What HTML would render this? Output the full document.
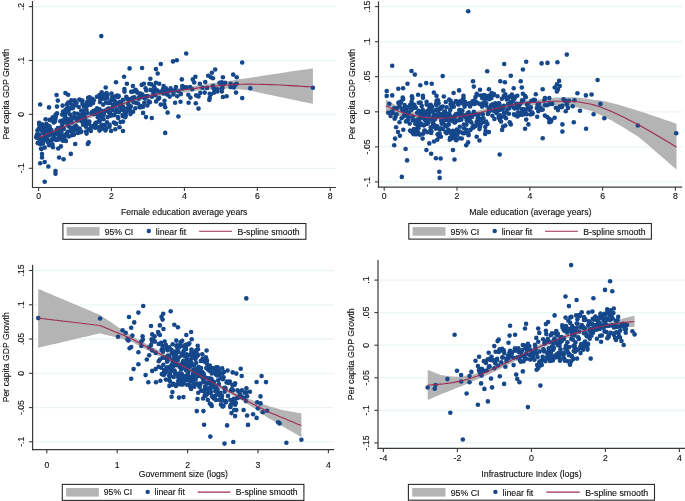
<!DOCTYPE html>
<html><head><meta charset="utf-8"><style>
html,body{margin:0;padding:0;background:#fff;}
svg{display:block;will-change:transform;filter:blur(0.3px);}
text{font-family:"Liberation Sans",sans-serif;fill:#111111;stroke:#111111;stroke-width:0.12px;}
</style></head><body>
<svg width="685" height="501" viewBox="0 0 685 501">
<rect x="0" y="0" width="685" height="501" fill="#ffffff"/>
<line x1="33.0" y1="6.6" x2="336.0" y2="6.6" stroke="#eaf6f1" stroke-width="1.3"/>
<line x1="33.0" y1="60.5" x2="336.0" y2="60.5" stroke="#eaf6f1" stroke-width="1.3"/>
<line x1="33.0" y1="114.4" x2="336.0" y2="114.4" stroke="#eaf6f1" stroke-width="1.3"/>
<line x1="33.0" y1="168.3" x2="336.0" y2="168.3" stroke="#eaf6f1" stroke-width="1.3"/>
<polygon points="38.6,134.8 40.3,134.1 42.7,133.1 45.5,131.9 48.5,130.6 51.8,129.2 55.1,127.8 58.2,126.5 61.1,125.3 63.7,124.2 66.3,123.1 68.8,122.0 71.3,121.0 73.8,119.9 76.4,118.9 79.1,117.8 81.9,116.7 84.9,115.5 88.0,114.3 91.2,113.1 94.5,111.9 97.9,110.7 101.2,109.5 104.5,108.3 107.8,107.1 111.0,105.9 114.3,104.7 117.5,103.5 120.7,102.3 124.0,101.1 127.2,100.0 130.5,98.9 133.7,97.9 136.9,96.9 140.1,96.0 143.3,95.1 146.5,94.3 149.8,93.5 153.0,92.7 156.3,92.0 159.7,91.3 163.2,90.6 166.7,90.0 170.3,89.4 173.9,88.8 177.5,88.3 181.1,87.7 184.7,87.2 188.2,86.7 191.6,86.2 195.0,85.7 198.3,85.2 201.6,84.8 204.9,84.3 208.3,83.7 211.6,83.3 215.0,82.8 218.4,82.3 221.8,81.9 225.2,81.5 228.7,81.1 232.2,80.6 235.7,79.9 239.3,79.3 243.0,78.8 246.8,78.3 250.6,77.7 254.4,77.0 258.4,76.4 262.4,75.8 266.5,75.2 270.7,74.5 275.0,73.9 279.7,73.3 284.9,72.5 290.4,71.6 295.9,70.8 301.2,70.1 306.0,69.4 309.9,68.8 312.9,68.4 312.9,103.8 309.9,103.2 306.0,102.4 301.2,101.4 295.9,100.3 290.4,99.2 284.9,98.1 279.7,97.1 275.0,96.1 270.7,95.1 266.5,94.2 262.4,93.3 258.4,92.5 254.4,91.6 250.6,90.7 246.8,90.1 243.0,89.7 239.3,89.3 235.7,89.0 232.2,88.7 228.7,88.6 225.2,88.7 221.8,88.9 218.4,89.0 215.0,89.2 211.6,89.4 208.3,89.6 204.9,89.9 201.6,90.2 198.3,90.6 195.0,91.0 191.6,91.5 188.2,91.9 184.7,92.4 181.1,92.8 177.5,93.3 173.9,93.8 170.3,94.3 166.7,94.9 163.2,95.5 159.7,96.1 156.3,96.8 153.0,97.5 149.8,98.3 146.5,99.0 143.3,99.9 140.1,100.7 136.9,101.6 133.7,102.5 130.5,103.5 127.2,104.6 124.0,105.7 120.7,106.8 117.5,108.0 114.3,109.2 111.0,110.4 107.8,111.5 104.5,112.7 101.2,113.9 97.9,115.2 94.5,116.5 91.2,117.8 88.0,119.1 84.9,120.3 81.9,121.5 79.1,122.7 76.4,123.9 73.8,125.0 71.3,126.1 68.8,127.2 66.3,128.4 63.7,129.5 61.1,130.7 58.2,132.0 55.1,133.4 51.8,134.9 48.5,136.3 45.5,137.7 42.7,139.0 40.3,140.0 38.6,140.8" fill="#b4b4b4"/>
<g fill="#15478b"><circle cx="36.2" cy="137.0" r="2.3"/><circle cx="37.0" cy="134.6" r="2.3"/><circle cx="36.8" cy="137.7" r="2.3"/><circle cx="37.1" cy="135.8" r="2.3"/><circle cx="37.8" cy="142.8" r="2.3"/><circle cx="37.5" cy="130.6" r="2.3"/><circle cx="38.0" cy="143.2" r="2.3"/><circle cx="38.8" cy="128.7" r="2.3"/><circle cx="38.8" cy="138.4" r="2.3"/><circle cx="39.1" cy="122.9" r="2.3"/><circle cx="39.3" cy="125.0" r="2.3"/><circle cx="39.5" cy="134.6" r="2.3"/><circle cx="40.2" cy="144.1" r="2.3"/><circle cx="40.3" cy="139.0" r="2.3"/><circle cx="40.7" cy="139.6" r="2.3"/><circle cx="41.2" cy="130.0" r="2.3"/><circle cx="41.5" cy="149.1" r="2.3"/><circle cx="41.9" cy="140.5" r="2.3"/><circle cx="42.2" cy="128.1" r="2.3"/><circle cx="42.1" cy="124.2" r="2.3"/><circle cx="42.9" cy="131.8" r="2.3"/><circle cx="43.0" cy="143.6" r="2.3"/><circle cx="43.0" cy="126.9" r="2.3"/><circle cx="44.0" cy="133.3" r="2.3"/><circle cx="44.0" cy="131.4" r="2.3"/><circle cx="44.0" cy="137.2" r="2.3"/><circle cx="44.9" cy="127.4" r="2.3"/><circle cx="44.5" cy="129.1" r="2.3"/><circle cx="45.5" cy="140.2" r="2.3"/><circle cx="45.1" cy="126.5" r="2.3"/><circle cx="45.6" cy="119.3" r="2.3"/><circle cx="46.4" cy="123.9" r="2.3"/><circle cx="46.3" cy="131.3" r="2.3"/><circle cx="46.6" cy="138.8" r="2.3"/><circle cx="46.6" cy="136.4" r="2.3"/><circle cx="47.1" cy="130.0" r="2.3"/><circle cx="47.6" cy="125.5" r="2.3"/><circle cx="48.0" cy="140.4" r="2.3"/><circle cx="48.2" cy="142.4" r="2.3"/><circle cx="48.1" cy="128.6" r="2.3"/><circle cx="48.9" cy="135.4" r="2.3"/><circle cx="49.1" cy="145.3" r="2.3"/><circle cx="49.4" cy="126.2" r="2.3"/><circle cx="49.6" cy="119.9" r="2.3"/><circle cx="49.5" cy="133.2" r="2.3"/><circle cx="50.1" cy="133.4" r="2.3"/><circle cx="50.2" cy="129.1" r="2.3"/><circle cx="51.0" cy="129.8" r="2.3"/><circle cx="51.3" cy="140.8" r="2.3"/><circle cx="51.1" cy="119.8" r="2.3"/><circle cx="52.0" cy="139.2" r="2.3"/><circle cx="51.6" cy="120.5" r="2.3"/><circle cx="52.4" cy="144.2" r="2.3"/><circle cx="52.4" cy="132.6" r="2.3"/><circle cx="52.7" cy="117.3" r="2.3"/><circle cx="53.0" cy="147.3" r="2.3"/><circle cx="53.1" cy="135.2" r="2.3"/><circle cx="53.6" cy="138.7" r="2.3"/><circle cx="53.8" cy="122.4" r="2.3"/><circle cx="54.1" cy="135.3" r="2.3"/><circle cx="54.0" cy="120.1" r="2.3"/><circle cx="54.8" cy="139.3" r="2.3"/><circle cx="54.8" cy="121.4" r="2.3"/><circle cx="55.5" cy="118.7" r="2.3"/><circle cx="55.0" cy="120.7" r="2.3"/><circle cx="55.7" cy="114.6" r="2.3"/><circle cx="55.8" cy="116.1" r="2.3"/><circle cx="56.2" cy="140.0" r="2.3"/><circle cx="56.5" cy="132.5" r="2.3"/><circle cx="56.8" cy="130.0" r="2.3"/><circle cx="57.1" cy="113.4" r="2.3"/><circle cx="57.0" cy="138.9" r="2.3"/><circle cx="57.5" cy="131.2" r="2.3"/><circle cx="57.7" cy="134.3" r="2.3"/><circle cx="58.2" cy="138.6" r="2.3"/><circle cx="58.0" cy="128.0" r="2.3"/><circle cx="58.9" cy="139.5" r="2.3"/><circle cx="58.9" cy="133.0" r="2.3"/><circle cx="59.4" cy="138.1" r="2.3"/><circle cx="59.5" cy="138.3" r="2.3"/><circle cx="59.7" cy="135.4" r="2.3"/><circle cx="59.9" cy="128.0" r="2.3"/><circle cx="60.3" cy="121.2" r="2.3"/><circle cx="60.3" cy="129.0" r="2.3"/><circle cx="60.5" cy="129.7" r="2.3"/><circle cx="61.0" cy="137.9" r="2.3"/><circle cx="61.4" cy="120.8" r="2.3"/><circle cx="61.4" cy="127.4" r="2.3"/><circle cx="61.7" cy="136.1" r="2.3"/><circle cx="61.5" cy="133.0" r="2.3"/><circle cx="62.0" cy="127.5" r="2.3"/><circle cx="62.2" cy="114.6" r="2.3"/><circle cx="62.3" cy="123.9" r="2.3"/><circle cx="62.8" cy="140.7" r="2.3"/><circle cx="62.6" cy="105.6" r="2.3"/><circle cx="63.1" cy="111.6" r="2.3"/><circle cx="63.5" cy="129.1" r="2.3"/><circle cx="63.7" cy="137.1" r="2.3"/><circle cx="63.7" cy="129.0" r="2.3"/><circle cx="64.1" cy="120.3" r="2.3"/><circle cx="64.4" cy="137.7" r="2.3"/><circle cx="64.9" cy="118.2" r="2.3"/><circle cx="64.8" cy="115.8" r="2.3"/><circle cx="65.1" cy="122.0" r="2.3"/><circle cx="65.4" cy="134.9" r="2.3"/><circle cx="65.9" cy="140.9" r="2.3"/><circle cx="65.6" cy="109.7" r="2.3"/><circle cx="65.7" cy="113.5" r="2.3"/><circle cx="66.1" cy="118.3" r="2.3"/><circle cx="66.3" cy="121.3" r="2.3"/><circle cx="66.7" cy="133.9" r="2.3"/><circle cx="67.0" cy="119.6" r="2.3"/><circle cx="67.0" cy="104.2" r="2.3"/><circle cx="67.4" cy="123.8" r="2.3"/><circle cx="67.7" cy="131.9" r="2.3"/><circle cx="67.5" cy="107.5" r="2.3"/><circle cx="68.2" cy="102.8" r="2.3"/><circle cx="68.4" cy="111.1" r="2.3"/><circle cx="68.6" cy="102.5" r="2.3"/><circle cx="68.8" cy="126.5" r="2.3"/><circle cx="68.9" cy="136.4" r="2.3"/><circle cx="69.3" cy="109.3" r="2.3"/><circle cx="69.2" cy="108.6" r="2.3"/><circle cx="69.5" cy="119.4" r="2.3"/><circle cx="69.9" cy="108.4" r="2.3"/><circle cx="70.1" cy="114.5" r="2.3"/><circle cx="70.3" cy="121.0" r="2.3"/><circle cx="70.8" cy="129.7" r="2.3"/><circle cx="70.7" cy="131.1" r="2.3"/><circle cx="71.5" cy="104.4" r="2.3"/><circle cx="71.5" cy="128.3" r="2.3"/><circle cx="71.6" cy="118.0" r="2.3"/><circle cx="71.8" cy="135.2" r="2.3"/><circle cx="71.7" cy="122.4" r="2.3"/><circle cx="72.4" cy="130.8" r="2.3"/><circle cx="72.5" cy="118.3" r="2.3"/><circle cx="72.8" cy="108.3" r="2.3"/><circle cx="72.9" cy="131.5" r="2.3"/><circle cx="73.3" cy="127.6" r="2.3"/><circle cx="73.1" cy="134.5" r="2.3"/><circle cx="74.0" cy="134.2" r="2.3"/><circle cx="73.7" cy="134.7" r="2.3"/><circle cx="74.4" cy="113.2" r="2.3"/><circle cx="74.0" cy="116.8" r="2.3"/><circle cx="74.8" cy="129.0" r="2.3"/><circle cx="74.7" cy="100.3" r="2.3"/><circle cx="75.4" cy="102.7" r="2.3"/><circle cx="75.2" cy="129.6" r="2.3"/><circle cx="75.1" cy="105.5" r="2.3"/><circle cx="75.8" cy="127.0" r="2.3"/><circle cx="75.9" cy="125.7" r="2.3"/><circle cx="76.5" cy="118.2" r="2.3"/><circle cx="76.5" cy="103.0" r="2.3"/><circle cx="76.6" cy="119.4" r="2.3"/><circle cx="76.6" cy="126.9" r="2.3"/><circle cx="77.3" cy="119.1" r="2.3"/><circle cx="77.4" cy="120.5" r="2.3"/><circle cx="77.7" cy="113.7" r="2.3"/><circle cx="77.9" cy="132.9" r="2.3"/><circle cx="78.1" cy="130.9" r="2.3"/><circle cx="78.5" cy="118.9" r="2.3"/><circle cx="78.8" cy="107.0" r="2.3"/><circle cx="78.8" cy="118.0" r="2.3"/><circle cx="79.3" cy="99.5" r="2.3"/><circle cx="79.5" cy="118.3" r="2.3"/><circle cx="79.7" cy="128.5" r="2.3"/><circle cx="79.8" cy="117.3" r="2.3"/><circle cx="80.3" cy="100.1" r="2.3"/><circle cx="80.5" cy="132.3" r="2.3"/><circle cx="80.6" cy="116.4" r="2.3"/><circle cx="80.6" cy="115.0" r="2.3"/><circle cx="81.4" cy="131.5" r="2.3"/><circle cx="81.2" cy="110.7" r="2.3"/><circle cx="81.6" cy="121.3" r="2.3"/><circle cx="82.5" cy="103.9" r="2.3"/><circle cx="82.4" cy="100.6" r="2.3"/><circle cx="82.8" cy="110.6" r="2.3"/><circle cx="82.7" cy="121.1" r="2.3"/><circle cx="83.1" cy="124.8" r="2.3"/><circle cx="83.1" cy="117.1" r="2.3"/><circle cx="83.6" cy="106.1" r="2.3"/><circle cx="83.8" cy="114.4" r="2.3"/><circle cx="84.2" cy="113.5" r="2.3"/><circle cx="84.3" cy="104.7" r="2.3"/><circle cx="84.6" cy="120.9" r="2.3"/><circle cx="84.8" cy="117.4" r="2.3"/><circle cx="85.4" cy="120.1" r="2.3"/><circle cx="85.9" cy="107.0" r="2.3"/><circle cx="85.9" cy="126.7" r="2.3"/><circle cx="86.5" cy="109.7" r="2.3"/><circle cx="86.2" cy="131.6" r="2.3"/><circle cx="86.6" cy="133.6" r="2.3"/><circle cx="86.6" cy="123.6" r="2.3"/><circle cx="87.1" cy="102.0" r="2.3"/><circle cx="87.4" cy="113.1" r="2.3"/><circle cx="87.9" cy="102.9" r="2.3"/><circle cx="88.2" cy="121.8" r="2.3"/><circle cx="88.0" cy="105.3" r="2.3"/><circle cx="88.8" cy="129.4" r="2.3"/><circle cx="89.0" cy="102.3" r="2.3"/><circle cx="89.3" cy="124.0" r="2.3"/><circle cx="89.3" cy="121.6" r="2.3"/><circle cx="89.6" cy="99.9" r="2.3"/><circle cx="89.6" cy="97.3" r="2.3"/><circle cx="90.3" cy="103.0" r="2.3"/><circle cx="90.6" cy="104.8" r="2.3"/><circle cx="90.9" cy="130.9" r="2.3"/><circle cx="91.5" cy="101.0" r="2.3"/><circle cx="91.0" cy="127.1" r="2.3"/><circle cx="91.7" cy="113.5" r="2.3"/><circle cx="91.8" cy="112.2" r="2.3"/><circle cx="92.3" cy="98.7" r="2.3"/><circle cx="92.9" cy="126.1" r="2.3"/><circle cx="92.6" cy="112.8" r="2.3"/><circle cx="93.4" cy="111.0" r="2.3"/><circle cx="93.1" cy="102.9" r="2.3"/><circle cx="93.8" cy="100.2" r="2.3"/><circle cx="93.9" cy="126.4" r="2.3"/><circle cx="94.3" cy="110.8" r="2.3"/><circle cx="94.3" cy="114.1" r="2.3"/><circle cx="95.0" cy="124.2" r="2.3"/><circle cx="95.1" cy="127.7" r="2.3"/><circle cx="95.4" cy="123.2" r="2.3"/><circle cx="95.9" cy="110.4" r="2.3"/><circle cx="95.9" cy="126.5" r="2.3"/><circle cx="96.3" cy="122.6" r="2.3"/><circle cx="96.4" cy="110.3" r="2.3"/><circle cx="96.9" cy="96.8" r="2.3"/><circle cx="96.7" cy="112.3" r="2.3"/><circle cx="97.0" cy="108.3" r="2.3"/><circle cx="97.8" cy="117.3" r="2.3"/><circle cx="97.6" cy="127.4" r="2.3"/><circle cx="98.3" cy="115.4" r="2.3"/><circle cx="98.3" cy="109.2" r="2.3"/><circle cx="99.0" cy="117.7" r="2.3"/><circle cx="98.9" cy="121.8" r="2.3"/><circle cx="99.5" cy="95.1" r="2.3"/><circle cx="99.8" cy="120.7" r="2.3"/><circle cx="99.6" cy="109.3" r="2.3"/><circle cx="100.0" cy="102.1" r="2.3"/><circle cx="100.2" cy="98.8" r="2.3"/><circle cx="100.6" cy="126.2" r="2.3"/><circle cx="100.8" cy="112.6" r="2.3"/><circle cx="101.5" cy="114.6" r="2.3"/><circle cx="101.5" cy="116.9" r="2.3"/><circle cx="101.9" cy="95.2" r="2.3"/><circle cx="102.0" cy="124.9" r="2.3"/><circle cx="102.1" cy="111.0" r="2.3"/><circle cx="102.6" cy="111.8" r="2.3"/><circle cx="102.8" cy="98.7" r="2.3"/><circle cx="103.3" cy="115.2" r="2.3"/><circle cx="103.2" cy="104.6" r="2.3"/><circle cx="103.8" cy="113.9" r="2.3"/><circle cx="103.6" cy="119.2" r="2.3"/><circle cx="104.1" cy="94.5" r="2.3"/><circle cx="104.6" cy="97.7" r="2.3"/><circle cx="104.7" cy="125.3" r="2.3"/><circle cx="105.4" cy="98.7" r="2.3"/><circle cx="105.5" cy="130.4" r="2.3"/><circle cx="105.7" cy="110.8" r="2.3"/><circle cx="106.0" cy="102.7" r="2.3"/><circle cx="106.3" cy="128.3" r="2.3"/><circle cx="106.9" cy="110.3" r="2.3"/><circle cx="107.0" cy="122.4" r="2.3"/><circle cx="107.3" cy="98.0" r="2.3"/><circle cx="107.3" cy="109.8" r="2.3"/><circle cx="107.6" cy="94.9" r="2.3"/><circle cx="107.7" cy="117.1" r="2.3"/><circle cx="108.2" cy="103.0" r="2.3"/><circle cx="108.3" cy="108.5" r="2.3"/><circle cx="108.9" cy="112.3" r="2.3"/><circle cx="109.5" cy="126.7" r="2.3"/><circle cx="109.4" cy="102.0" r="2.3"/><circle cx="109.6" cy="124.8" r="2.3"/><circle cx="109.9" cy="115.4" r="2.3"/><circle cx="110.2" cy="103.0" r="2.3"/><circle cx="110.3" cy="113.3" r="2.3"/><circle cx="110.8" cy="115.6" r="2.3"/><circle cx="111.4" cy="100.0" r="2.3"/><circle cx="111.1" cy="130.9" r="2.3"/><circle cx="111.5" cy="93.5" r="2.3"/><circle cx="111.6" cy="108.2" r="2.3"/><circle cx="112.3" cy="96.7" r="2.3"/><circle cx="112.3" cy="98.0" r="2.3"/><circle cx="112.8" cy="115.3" r="2.3"/><circle cx="112.7" cy="109.9" r="2.3"/><circle cx="113.1" cy="105.1" r="2.3"/><circle cx="113.9" cy="122.6" r="2.3"/><circle cx="113.5" cy="97.1" r="2.3"/><circle cx="114.4" cy="114.9" r="2.3"/><circle cx="114.4" cy="100.3" r="2.3"/><circle cx="114.7" cy="101.8" r="2.3"/><circle cx="114.9" cy="105.8" r="2.3"/><circle cx="115.3" cy="129.2" r="2.3"/><circle cx="115.7" cy="112.0" r="2.3"/><circle cx="115.9" cy="123.8" r="2.3"/><circle cx="116.0" cy="123.7" r="2.3"/><circle cx="116.0" cy="96.1" r="2.3"/><circle cx="116.8" cy="109.6" r="2.3"/><circle cx="116.8" cy="103.0" r="2.3"/><circle cx="117.4" cy="95.5" r="2.3"/><circle cx="117.5" cy="103.0" r="2.3"/><circle cx="117.9" cy="117.0" r="2.3"/><circle cx="118.1" cy="97.1" r="2.3"/><circle cx="118.2" cy="118.1" r="2.3"/><circle cx="118.7" cy="96.0" r="2.3"/><circle cx="118.9" cy="112.1" r="2.3"/><circle cx="119.5" cy="127.3" r="2.3"/><circle cx="120.0" cy="106.8" r="2.3"/><circle cx="119.9" cy="102.1" r="2.3"/><circle cx="120.2" cy="105.1" r="2.3"/><circle cx="120.5" cy="122.1" r="2.3"/><circle cx="120.6" cy="103.5" r="2.3"/><circle cx="121.2" cy="103.3" r="2.3"/><circle cx="121.2" cy="104.1" r="2.3"/><circle cx="121.6" cy="109.6" r="2.3"/><circle cx="121.9" cy="108.8" r="2.3"/><circle cx="122.4" cy="109.2" r="2.3"/><circle cx="122.6" cy="115.1" r="2.3"/><circle cx="122.9" cy="99.7" r="2.3"/><circle cx="123.0" cy="106.9" r="2.3"/><circle cx="123.8" cy="108.2" r="2.3"/><circle cx="124.0" cy="110.8" r="2.3"/><circle cx="124.4" cy="89.1" r="2.3"/><circle cx="124.5" cy="91.6" r="2.3"/><circle cx="125.4" cy="117.1" r="2.3"/><circle cx="125.0" cy="109.0" r="2.3"/><circle cx="125.6" cy="112.0" r="2.3"/><circle cx="126.3" cy="96.7" r="2.3"/><circle cx="126.1" cy="112.1" r="2.3"/><circle cx="126.8" cy="111.6" r="2.3"/><circle cx="127.2" cy="98.9" r="2.3"/><circle cx="128.0" cy="108.0" r="2.3"/><circle cx="128.2" cy="103.9" r="2.3"/><circle cx="128.4" cy="108.6" r="2.3"/><circle cx="129.0" cy="100.0" r="2.3"/><circle cx="129.4" cy="106.6" r="2.3"/><circle cx="129.9" cy="109.9" r="2.3"/><circle cx="130.4" cy="114.1" r="2.3"/><circle cx="130.8" cy="106.4" r="2.3"/><circle cx="130.9" cy="99.0" r="2.3"/><circle cx="131.2" cy="91.7" r="2.3"/><circle cx="131.9" cy="111.9" r="2.3"/><circle cx="132.2" cy="91.8" r="2.3"/><circle cx="132.6" cy="97.8" r="2.3"/><circle cx="133.1" cy="111.8" r="2.3"/><circle cx="133.6" cy="102.3" r="2.3"/><circle cx="134.4" cy="91.1" r="2.3"/><circle cx="134.5" cy="97.4" r="2.3"/><circle cx="135.3" cy="108.2" r="2.3"/><circle cx="135.5" cy="89.7" r="2.3"/><circle cx="136.1" cy="103.0" r="2.3"/><circle cx="136.8" cy="91.6" r="2.3"/><circle cx="137.6" cy="92.7" r="2.3"/><circle cx="138.1" cy="103.5" r="2.3"/><circle cx="138.7" cy="98.6" r="2.3"/><circle cx="139.4" cy="96.9" r="2.3"/><circle cx="139.6" cy="107.2" r="2.3"/><circle cx="140.5" cy="93.6" r="2.3"/><circle cx="140.8" cy="106.1" r="2.3"/><circle cx="141.0" cy="107.2" r="2.3"/><circle cx="141.9" cy="94.3" r="2.3"/><circle cx="142.8" cy="97.0" r="2.3"/><circle cx="143.1" cy="106.8" r="2.3"/><circle cx="143.5" cy="95.8" r="2.3"/><circle cx="144.2" cy="103.0" r="2.3"/><circle cx="144.9" cy="98.6" r="2.3"/><circle cx="145.6" cy="88.3" r="2.3"/><circle cx="146.2" cy="90.5" r="2.3"/><circle cx="146.9" cy="96.1" r="2.3"/><circle cx="147.3" cy="105.5" r="2.3"/><circle cx="147.6" cy="96.3" r="2.3"/><circle cx="148.6" cy="101.3" r="2.3"/><circle cx="149.0" cy="102.3" r="2.3"/><circle cx="149.9" cy="102.2" r="2.3"/><circle cx="150.5" cy="89.9" r="2.3"/><circle cx="151.4" cy="84.2" r="2.3"/><circle cx="152.0" cy="96.8" r="2.3"/><circle cx="152.9" cy="90.6" r="2.3"/><circle cx="153.4" cy="93.0" r="2.3"/><circle cx="154.0" cy="86.4" r="2.3"/><circle cx="154.9" cy="88.6" r="2.3"/><circle cx="155.3" cy="95.2" r="2.3"/><circle cx="156.1" cy="101.4" r="2.3"/><circle cx="156.7" cy="90.7" r="2.3"/><circle cx="157.5" cy="90.6" r="2.3"/><circle cx="158.2" cy="98.8" r="2.3"/><circle cx="159.2" cy="98.1" r="2.3"/><circle cx="160.1" cy="92.3" r="2.3"/><circle cx="160.7" cy="104.6" r="2.3"/><circle cx="161.5" cy="91.9" r="2.3"/><circle cx="162.9" cy="89.3" r="2.3"/><circle cx="163.8" cy="93.4" r="2.3"/><circle cx="164.5" cy="100.8" r="2.3"/><circle cx="165.4" cy="88.7" r="2.3"/><circle cx="166.3" cy="90.2" r="2.3"/><circle cx="167.2" cy="94.6" r="2.3"/><circle cx="168.6" cy="90.9" r="2.3"/><circle cx="169.7" cy="96.6" r="2.3"/><circle cx="170.6" cy="88.4" r="2.3"/><circle cx="171.9" cy="90.6" r="2.3"/><circle cx="173.5" cy="94.4" r="2.3"/><circle cx="174.9" cy="90.4" r="2.3"/><circle cx="175.9" cy="87.0" r="2.3"/><circle cx="177.3" cy="96.3" r="2.3"/><circle cx="178.6" cy="91.3" r="2.3"/><circle cx="180.9" cy="94.1" r="2.3"/><circle cx="182.5" cy="88.3" r="2.3"/><circle cx="184.1" cy="87.2" r="2.3"/><circle cx="186.2" cy="87.2" r="2.3"/><circle cx="188.3" cy="94.7" r="2.3"/><circle cx="190.4" cy="97.6" r="2.3"/><circle cx="192.2" cy="89.2" r="2.3"/><circle cx="194.2" cy="82.5" r="2.3"/><circle cx="196.2" cy="95.4" r="2.3"/><circle cx="198.5" cy="96.5" r="2.3"/><circle cx="200.3" cy="92.9" r="2.3"/><circle cx="202.5" cy="87.8" r="2.3"/><circle cx="204.7" cy="92.6" r="2.3"/><circle cx="207.1" cy="87.9" r="2.3"/><circle cx="210.8" cy="94.4" r="2.3"/><circle cx="214.6" cy="89.7" r="2.3"/><circle cx="222.5" cy="88.0" r="2.3"/><circle cx="40.2" cy="104.5" r="2.3"/><circle cx="44.7" cy="181.8" r="2.3"/><circle cx="55.5" cy="171.0" r="2.3"/><circle cx="55.5" cy="173.7" r="2.3"/><circle cx="48.3" cy="166.5" r="2.3"/><circle cx="40.2" cy="163.3" r="2.3"/><circle cx="44.7" cy="162.0" r="2.3"/><circle cx="59.1" cy="157.5" r="2.3"/><circle cx="63.6" cy="159.3" r="2.3"/><circle cx="70.8" cy="153.9" r="2.3"/><circle cx="75.2" cy="144.0" r="2.3"/><circle cx="87.8" cy="144.0" r="2.3"/><circle cx="88.7" cy="142.2" r="2.3"/><circle cx="99.5" cy="130.6" r="2.3"/><circle cx="102.2" cy="128.8" r="2.3"/><circle cx="42.0" cy="154.0" r="2.3"/><circle cx="42.0" cy="157.5" r="2.3"/><circle cx="41.1" cy="148.5" r="2.3"/><circle cx="44.7" cy="147.6" r="2.3"/><circle cx="58.2" cy="148.5" r="2.3"/><circle cx="60.9" cy="146.4" r="2.3"/><circle cx="101.3" cy="36.1" r="2.3"/><circle cx="56.6" cy="95.0" r="2.3"/><circle cx="65.4" cy="93.1" r="2.3"/><circle cx="68.1" cy="94.7" r="2.3"/><circle cx="57.8" cy="100.6" r="2.3"/><circle cx="49.0" cy="107.4" r="2.3"/><circle cx="57.0" cy="106.6" r="2.3"/><circle cx="71.3" cy="100.3" r="2.3"/><circle cx="88.1" cy="97.9" r="2.3"/><circle cx="105.7" cy="87.5" r="2.3"/><circle cx="101.7" cy="92.3" r="2.3"/><circle cx="106.5" cy="93.1" r="2.3"/><circle cx="116.0" cy="82.2" r="2.3"/><circle cx="123.0" cy="131.0" r="2.3"/><circle cx="242.2" cy="62.5" r="2.3"/><circle cx="222.9" cy="77.2" r="2.3"/><circle cx="233.2" cy="74.6" r="2.3"/><circle cx="236.7" cy="77.2" r="2.3"/><circle cx="221.8" cy="82.2" r="2.3"/><circle cx="225.1" cy="82.7" r="2.3"/><circle cx="222.9" cy="84.4" r="2.3"/><circle cx="213.0" cy="86.0" r="2.3"/><circle cx="217.4" cy="89.3" r="2.3"/><circle cx="214.1" cy="92.6" r="2.3"/><circle cx="221.8" cy="91.5" r="2.3"/><circle cx="230.6" cy="83.8" r="2.3"/><circle cx="235.0" cy="84.9" r="2.3"/><circle cx="236.7" cy="83.8" r="2.3"/><circle cx="233.9" cy="87.5" r="2.3"/><circle cx="236.0" cy="92.6" r="2.3"/><circle cx="250.3" cy="88.2" r="2.3"/><circle cx="222.9" cy="97.0" r="2.3"/><circle cx="226.6" cy="96.3" r="2.3"/><circle cx="242.2" cy="98.1" r="2.3"/><circle cx="312.9" cy="87.7" r="2.3"/><circle cx="165.2" cy="132.9" r="2.3"/><circle cx="178.4" cy="116.5" r="2.3"/><circle cx="151.8" cy="118.0" r="2.3"/><circle cx="146.0" cy="117.1" r="2.3"/><circle cx="143.1" cy="112.9" r="2.3"/><circle cx="167.6" cy="112.6" r="2.3"/><circle cx="198.5" cy="108.6" r="2.3"/><circle cx="123.0" cy="121.6" r="2.3"/><circle cx="125.7" cy="115.3" r="2.3"/><circle cx="123.0" cy="116.2" r="2.3"/><circle cx="165.2" cy="107.2" r="2.3"/><circle cx="164.3" cy="104.5" r="2.3"/><circle cx="175.1" cy="102.7" r="2.3"/><circle cx="180.5" cy="101.8" r="2.3"/><circle cx="188.6" cy="102.7" r="2.3"/><circle cx="195.8" cy="103.2" r="2.3"/><circle cx="209.3" cy="100.0" r="2.3"/><circle cx="186.2" cy="53.5" r="2.3"/><circle cx="173.0" cy="61.4" r="2.3"/><circle cx="176.8" cy="60.3" r="2.3"/><circle cx="160.8" cy="64.0" r="2.3"/><circle cx="129.6" cy="68.4" r="2.3"/><circle cx="142.1" cy="68.0" r="2.3"/><circle cx="155.9" cy="69.1" r="2.3"/><circle cx="157.7" cy="73.5" r="2.3"/><circle cx="215.2" cy="69.5" r="2.3"/><circle cx="211.9" cy="72.8" r="2.3"/><circle cx="208.2" cy="75.7" r="2.3"/><circle cx="210.8" cy="77.2" r="2.3"/><circle cx="213.0" cy="78.3" r="2.3"/><circle cx="195.4" cy="76.8" r="2.3"/><circle cx="192.8" cy="79.4" r="2.3"/><circle cx="181.8" cy="79.4" r="2.3"/><circle cx="150.4" cy="78.7" r="2.3"/><circle cx="124.1" cy="76.8" r="2.3"/><circle cx="126.9" cy="83.8" r="2.3"/><circle cx="132.9" cy="86.0" r="2.3"/><circle cx="141.7" cy="84.9" r="2.3"/><circle cx="143.9" cy="83.8" r="2.3"/><circle cx="149.3" cy="83.8" r="2.3"/><circle cx="155.9" cy="82.7" r="2.3"/><circle cx="159.2" cy="83.8" r="2.3"/><circle cx="163.6" cy="86.0" r="2.3"/><circle cx="165.8" cy="88.2" r="2.3"/><circle cx="182.3" cy="86.0" r="2.3"/><circle cx="190.0" cy="87.1" r="2.3"/><circle cx="199.8" cy="83.8" r="2.3"/><circle cx="205.3" cy="82.0" r="2.3"/><circle cx="219.6" cy="82.7" r="2.3"/><circle cx="209.7" cy="98.0" r="2.3"/><circle cx="217.4" cy="91.5" r="2.3"/><circle cx="209.7" cy="93.7" r="2.3"/><circle cx="221.8" cy="88.2" r="2.3"/><circle cx="230.6" cy="87.1" r="2.3"/><circle cx="213.7" cy="88.2" r="2.3"/></g>
<polyline points="38.6,137.8 40.3,137.0 42.7,136.0 45.5,134.8 48.5,133.5 51.8,132.0 55.1,130.6 58.2,129.2 61.1,128.0 63.7,126.9 66.3,125.7 68.8,124.6 71.3,123.5 73.8,122.5 76.4,121.4 79.1,120.2 81.9,119.1 84.9,117.9 88.0,116.7 91.2,115.5 94.5,114.2 97.9,113.0 101.2,111.7 104.5,110.5 107.8,109.3 111.0,108.1 114.3,106.9 117.5,105.7 120.7,104.5 124.0,103.4 127.2,102.3 130.5,101.2 133.7,100.2 136.9,99.2 140.1,98.3 143.3,97.5 146.5,96.7 149.8,95.9 153.0,95.1 156.3,94.4 159.7,93.7 163.2,93.0 166.7,92.4 170.3,91.8 173.9,91.3 177.5,90.8 181.1,90.3 184.7,89.8 188.2,89.3 191.6,88.8 195.0,88.4 198.3,87.9 201.6,87.5 204.9,87.1 208.3,86.7 211.6,86.3 215.0,86.0 218.4,85.7 221.8,85.4 225.2,85.1 228.7,84.9 232.2,84.6 235.7,84.4 239.3,84.3 243.0,84.2 246.8,84.1 250.6,84.1 254.4,84.2 258.4,84.3 262.4,84.4 266.5,84.5 270.7,84.6 275.0,84.8 279.7,85.0 284.9,85.3 290.4,85.6 295.9,85.9 301.2,86.3 306.0,86.6 309.9,86.8 312.9,87.0" fill="none" stroke="#9e2a55" stroke-width="1.1"/>
<line x1="32.5" y1="1.0" x2="32.5" y2="188.1" stroke="#3a3a3a" stroke-width="1.2"/>
<line x1="31.9" y1="187.5" x2="336.0" y2="187.5" stroke="#3a3a3a" stroke-width="1.2"/>
<line x1="28.9" y1="6.6" x2="32.5" y2="6.6" stroke="#3a3a3a" stroke-width="1.1"/>
<text transform="translate(23.9,6.6) rotate(-90)" text-anchor="middle" font-size="8.7">.2</text>
<line x1="28.9" y1="60.5" x2="32.5" y2="60.5" stroke="#3a3a3a" stroke-width="1.1"/>
<text transform="translate(23.9,60.5) rotate(-90)" text-anchor="middle" font-size="8.7">.1</text>
<line x1="28.9" y1="114.4" x2="32.5" y2="114.4" stroke="#3a3a3a" stroke-width="1.1"/>
<text transform="translate(23.9,114.4) rotate(-90)" text-anchor="middle" font-size="8.7">0</text>
<line x1="28.9" y1="168.3" x2="32.5" y2="168.3" stroke="#3a3a3a" stroke-width="1.1"/>
<text transform="translate(23.9,168.3) rotate(-90)" text-anchor="middle" font-size="8.7">-.1</text>
<line x1="38.6" y1="187.5" x2="38.6" y2="191.1" stroke="#3a3a3a" stroke-width="1.1"/>
<text x="38.6" y="199.3" text-anchor="middle" font-size="8.7">0</text>
<line x1="111.5" y1="187.5" x2="111.5" y2="191.1" stroke="#3a3a3a" stroke-width="1.1"/>
<text x="111.5" y="199.3" text-anchor="middle" font-size="8.7">2</text>
<line x1="184.4" y1="187.5" x2="184.4" y2="191.1" stroke="#3a3a3a" stroke-width="1.1"/>
<text x="184.4" y="199.3" text-anchor="middle" font-size="8.7">4</text>
<line x1="257.3" y1="187.5" x2="257.3" y2="191.1" stroke="#3a3a3a" stroke-width="1.1"/>
<text x="257.3" y="199.3" text-anchor="middle" font-size="8.7">6</text>
<line x1="330.2" y1="187.5" x2="330.2" y2="191.1" stroke="#3a3a3a" stroke-width="1.1"/>
<text x="330.2" y="199.3" text-anchor="middle" font-size="8.7">8</text>
<text transform="translate(8.5,94.2) rotate(-90)" text-anchor="middle" font-size="8.7">Per capita GDP Growth</text>
<text x="184.2" y="215.2" text-anchor="middle" font-size="8.7">Female education average years</text>
<rect x="62.9" y="223.5" width="243.0" height="15.8" fill="#fff" stroke="#2a2a2a" stroke-width="1.1"/>
<rect x="66.7" y="227.1" width="32.9" height="8.6" fill="#b4b4b4"/>
<text x="104.7" y="234.5" text-anchor="start" font-size="8.7">95% CI</text>
<circle cx="148.8" cy="231.0" r="2.2" fill="#15478b"/>
<text x="155.8" y="234.5" text-anchor="start" font-size="8.7">linear fit</text>
<line x1="199.1" y1="231.2" x2="232.0" y2="231.2" stroke="#9e2a55" stroke-width="1.1"/>
<text x="237.4" y="234.5" text-anchor="start" font-size="8.7">B-spline smooth</text>
<line x1="379.0" y1="6.6" x2="682.2" y2="6.6" stroke="#eaf6f1" stroke-width="1.3"/>
<line x1="379.0" y1="41.7" x2="682.2" y2="41.7" stroke="#eaf6f1" stroke-width="1.3"/>
<line x1="379.0" y1="76.7" x2="682.2" y2="76.7" stroke="#eaf6f1" stroke-width="1.3"/>
<line x1="379.0" y1="111.8" x2="682.2" y2="111.8" stroke="#eaf6f1" stroke-width="1.3"/>
<line x1="379.0" y1="146.9" x2="682.2" y2="146.9" stroke="#eaf6f1" stroke-width="1.3"/>
<line x1="379.0" y1="181.9" x2="682.2" y2="181.9" stroke="#eaf6f1" stroke-width="1.3"/>
<polygon points="385.8,99.7 387.1,100.4 388.8,101.3 390.9,102.4 393.1,103.7 395.6,104.9 398.2,106.2 400.8,107.4 403.4,108.5 406.0,109.5 408.8,110.6 411.7,111.5 414.7,112.3 417.7,113.1 420.7,113.8 423.7,114.4 426.7,114.9 429.6,115.3 432.5,115.5 435.4,115.6 438.3,115.6 441.3,115.6 444.2,115.5 447.1,115.3 450.0,115.1 452.9,114.8 455.8,114.5 458.8,114.1 461.7,113.6 464.6,113.2 467.5,112.6 470.5,112.1 473.4,111.5 476.3,110.9 479.2,110.2 482.2,109.5 485.1,108.8 488.0,108.0 490.9,107.3 493.9,106.6 496.8,105.9 499.7,105.2 502.7,104.5 505.7,103.8 508.7,103.1 511.7,102.5 514.6,101.9 517.4,101.3 520.2,100.9 522.9,100.6 525.5,100.3 528.1,100.2 530.6,100.0 533.0,99.8 535.4,99.7 537.7,99.5 540.0,99.3 542.1,99.0 544.1,98.8 545.9,98.5 547.7,98.3 549.6,98.1 551.5,97.9 553.6,97.7 556.0,97.6 558.6,97.5 561.4,97.4 564.4,97.3 567.5,97.3 570.6,97.3 573.8,97.3 576.9,97.5 580.0,97.8 582.9,98.2 585.8,98.6 588.6,99.0 591.4,99.6 594.3,99.9 597.3,100.2 600.5,100.6 604.0,101.3 607.7,102.0 611.7,102.9 615.8,104.0 620.1,105.2 624.5,106.5 628.9,107.9 633.5,109.3 638.0,110.8 642.9,112.3 648.2,114.0 653.8,115.9 659.4,117.8 664.7,119.7 669.5,121.3 673.5,122.8 676.5,123.8 676.5,169.6 673.5,167.0 669.5,163.5 664.7,159.3 659.4,154.7 653.8,149.9 648.2,145.1 642.9,140.6 638.0,136.6 633.5,133.7 628.9,130.9 624.5,128.1 620.1,125.5 615.8,123.0 611.7,120.6 607.7,118.5 604.0,116.6 600.5,114.9 597.3,113.4 594.3,112.2 591.4,111.1 588.6,110.2 585.8,109.5 582.9,108.8 580.0,108.1 576.9,107.5 573.8,107.0 570.6,106.6 567.5,106.2 564.4,105.9 561.4,105.7 558.6,105.5 556.0,105.3 553.6,105.2 551.5,105.1 549.6,105.1 547.7,105.2 545.9,105.2 544.1,105.3 542.1,105.3 540.0,105.3 537.7,105.3 535.4,105.2 533.0,105.2 530.6,105.1 528.1,105.2 525.5,105.3 522.9,105.6 520.2,105.9 517.4,106.3 514.6,106.9 511.7,107.5 508.7,108.1 505.7,108.8 502.7,109.5 499.7,110.2 496.8,110.9 493.9,111.6 490.9,112.3 488.0,113.0 485.1,113.8 482.2,114.5 479.2,115.2 476.3,115.9 473.4,116.5 470.5,117.1 467.5,117.6 464.6,118.2 461.7,118.6 458.8,119.1 455.8,119.5 452.9,119.8 450.0,120.1 447.1,120.3 444.2,120.5 441.3,120.6 438.3,120.6 435.4,120.6 432.5,120.5 429.6,120.4 426.7,120.3 423.7,120.0 420.7,119.7 417.7,119.3 414.7,118.9 411.7,118.3 408.8,117.8 406.0,117.4 403.4,116.9 400.8,116.3 398.2,115.7 395.6,114.9 393.1,114.1 390.9,113.4 388.8,112.7 387.1,112.1 385.8,111.7" fill="#b4b4b4"/>
<g fill="#15478b"><circle cx="388.2" cy="112.8" r="2.3"/><circle cx="389.3" cy="103.7" r="2.3"/><circle cx="390.6" cy="116.0" r="2.3"/><circle cx="391.8" cy="111.6" r="2.3"/><circle cx="392.8" cy="112.9" r="2.3"/><circle cx="394.1" cy="108.4" r="2.3"/><circle cx="394.6" cy="118.7" r="2.3"/><circle cx="395.5" cy="116.9" r="2.3"/><circle cx="396.5" cy="114.3" r="2.3"/><circle cx="397.2" cy="108.0" r="2.3"/><circle cx="398.4" cy="103.1" r="2.3"/><circle cx="398.8" cy="102.6" r="2.3"/><circle cx="399.5" cy="122.2" r="2.3"/><circle cx="399.6" cy="106.2" r="2.3"/><circle cx="400.8" cy="102.8" r="2.3"/><circle cx="401.3" cy="101.4" r="2.3"/><circle cx="401.6" cy="118.3" r="2.3"/><circle cx="402.2" cy="109.0" r="2.3"/><circle cx="402.8" cy="110.4" r="2.3"/><circle cx="403.2" cy="99.0" r="2.3"/><circle cx="404.0" cy="115.5" r="2.3"/><circle cx="404.2" cy="108.2" r="2.3"/><circle cx="404.3" cy="116.1" r="2.3"/><circle cx="404.6" cy="105.1" r="2.3"/><circle cx="405.2" cy="112.5" r="2.3"/><circle cx="405.9" cy="112.4" r="2.3"/><circle cx="406.0" cy="121.4" r="2.3"/><circle cx="406.7" cy="113.4" r="2.3"/><circle cx="406.6" cy="110.8" r="2.3"/><circle cx="407.2" cy="120.8" r="2.3"/><circle cx="407.6" cy="114.8" r="2.3"/><circle cx="408.1" cy="119.3" r="2.3"/><circle cx="408.0" cy="107.0" r="2.3"/><circle cx="408.7" cy="117.8" r="2.3"/><circle cx="409.0" cy="112.8" r="2.3"/><circle cx="409.1" cy="107.5" r="2.3"/><circle cx="409.7" cy="123.6" r="2.3"/><circle cx="410.2" cy="130.6" r="2.3"/><circle cx="410.2" cy="104.9" r="2.3"/><circle cx="410.9" cy="131.2" r="2.3"/><circle cx="411.0" cy="107.6" r="2.3"/><circle cx="411.4" cy="109.9" r="2.3"/><circle cx="411.6" cy="101.7" r="2.3"/><circle cx="412.5" cy="132.4" r="2.3"/><circle cx="412.3" cy="98.4" r="2.3"/><circle cx="412.9" cy="120.3" r="2.3"/><circle cx="412.6" cy="116.5" r="2.3"/><circle cx="413.2" cy="120.2" r="2.3"/><circle cx="413.6" cy="134.2" r="2.3"/><circle cx="413.9" cy="104.5" r="2.3"/><circle cx="414.1" cy="129.3" r="2.3"/><circle cx="414.1" cy="129.0" r="2.3"/><circle cx="414.9" cy="106.5" r="2.3"/><circle cx="414.6" cy="108.0" r="2.3"/><circle cx="415.3" cy="123.7" r="2.3"/><circle cx="415.1" cy="130.6" r="2.3"/><circle cx="415.7" cy="107.7" r="2.3"/><circle cx="415.7" cy="134.1" r="2.3"/><circle cx="416.3" cy="121.8" r="2.3"/><circle cx="416.5" cy="134.3" r="2.3"/><circle cx="416.8" cy="132.3" r="2.3"/><circle cx="416.9" cy="120.5" r="2.3"/><circle cx="417.2" cy="112.7" r="2.3"/><circle cx="417.4" cy="119.9" r="2.3"/><circle cx="417.5" cy="125.4" r="2.3"/><circle cx="418.0" cy="128.6" r="2.3"/><circle cx="418.4" cy="132.8" r="2.3"/><circle cx="418.3" cy="128.3" r="2.3"/><circle cx="418.7" cy="102.8" r="2.3"/><circle cx="418.7" cy="110.7" r="2.3"/><circle cx="419.5" cy="124.7" r="2.3"/><circle cx="419.3" cy="122.2" r="2.3"/><circle cx="419.6" cy="119.0" r="2.3"/><circle cx="419.9" cy="113.8" r="2.3"/><circle cx="420.1" cy="114.3" r="2.3"/><circle cx="420.2" cy="124.7" r="2.3"/><circle cx="420.6" cy="102.6" r="2.3"/><circle cx="420.7" cy="125.1" r="2.3"/><circle cx="421.4" cy="123.8" r="2.3"/><circle cx="421.5" cy="112.9" r="2.3"/><circle cx="421.5" cy="117.4" r="2.3"/><circle cx="421.7" cy="105.9" r="2.3"/><circle cx="422.3" cy="112.0" r="2.3"/><circle cx="422.1" cy="111.5" r="2.3"/><circle cx="423.0" cy="97.7" r="2.3"/><circle cx="422.7" cy="109.8" r="2.3"/><circle cx="423.1" cy="115.5" r="2.3"/><circle cx="423.1" cy="133.7" r="2.3"/><circle cx="423.8" cy="125.5" r="2.3"/><circle cx="423.6" cy="116.7" r="2.3"/><circle cx="424.3" cy="130.9" r="2.3"/><circle cx="424.1" cy="116.6" r="2.3"/><circle cx="424.9" cy="130.5" r="2.3"/><circle cx="424.6" cy="119.6" r="2.3"/><circle cx="425.4" cy="114.2" r="2.3"/><circle cx="425.3" cy="124.3" r="2.3"/><circle cx="426.0" cy="120.2" r="2.3"/><circle cx="425.8" cy="112.6" r="2.3"/><circle cx="426.4" cy="111.6" r="2.3"/><circle cx="426.2" cy="113.0" r="2.3"/><circle cx="426.7" cy="104.6" r="2.3"/><circle cx="426.6" cy="120.0" r="2.3"/><circle cx="426.6" cy="101.7" r="2.3"/><circle cx="427.5" cy="122.0" r="2.3"/><circle cx="427.2" cy="132.3" r="2.3"/><circle cx="427.9" cy="111.6" r="2.3"/><circle cx="427.6" cy="123.7" r="2.3"/><circle cx="428.4" cy="122.5" r="2.3"/><circle cx="428.4" cy="115.1" r="2.3"/><circle cx="428.8" cy="109.5" r="2.3"/><circle cx="428.7" cy="113.9" r="2.3"/><circle cx="429.2" cy="114.7" r="2.3"/><circle cx="429.4" cy="106.1" r="2.3"/><circle cx="429.6" cy="109.3" r="2.3"/><circle cx="430.0" cy="119.4" r="2.3"/><circle cx="430.0" cy="131.2" r="2.3"/><circle cx="430.4" cy="130.7" r="2.3"/><circle cx="430.7" cy="127.5" r="2.3"/><circle cx="430.7" cy="104.9" r="2.3"/><circle cx="431.4" cy="131.2" r="2.3"/><circle cx="431.1" cy="133.0" r="2.3"/><circle cx="431.5" cy="111.4" r="2.3"/><circle cx="431.5" cy="106.3" r="2.3"/><circle cx="432.1" cy="126.9" r="2.3"/><circle cx="432.1" cy="107.0" r="2.3"/><circle cx="432.6" cy="111.6" r="2.3"/><circle cx="432.9" cy="122.8" r="2.3"/><circle cx="433.1" cy="125.8" r="2.3"/><circle cx="433.3" cy="116.9" r="2.3"/><circle cx="433.8" cy="124.6" r="2.3"/><circle cx="433.9" cy="119.0" r="2.3"/><circle cx="434.3" cy="117.6" r="2.3"/><circle cx="434.3" cy="114.7" r="2.3"/><circle cx="434.7" cy="119.6" r="2.3"/><circle cx="434.9" cy="110.5" r="2.3"/><circle cx="435.0" cy="118.6" r="2.3"/><circle cx="435.4" cy="126.2" r="2.3"/><circle cx="435.5" cy="125.9" r="2.3"/><circle cx="435.7" cy="115.4" r="2.3"/><circle cx="435.8" cy="128.6" r="2.3"/><circle cx="436.4" cy="104.9" r="2.3"/><circle cx="436.0" cy="104.1" r="2.3"/><circle cx="436.5" cy="100.7" r="2.3"/><circle cx="436.5" cy="109.5" r="2.3"/><circle cx="437.1" cy="126.2" r="2.3"/><circle cx="437.3" cy="139.8" r="2.3"/><circle cx="438.0" cy="100.2" r="2.3"/><circle cx="437.6" cy="134.3" r="2.3"/><circle cx="438.4" cy="116.2" r="2.3"/><circle cx="438.3" cy="112.0" r="2.3"/><circle cx="438.6" cy="103.2" r="2.3"/><circle cx="438.8" cy="136.8" r="2.3"/><circle cx="439.5" cy="129.5" r="2.3"/><circle cx="439.5" cy="113.8" r="2.3"/><circle cx="439.6" cy="133.5" r="2.3"/><circle cx="439.5" cy="108.7" r="2.3"/><circle cx="440.2" cy="128.2" r="2.3"/><circle cx="440.4" cy="129.3" r="2.3"/><circle cx="440.7" cy="114.6" r="2.3"/><circle cx="440.9" cy="136.8" r="2.3"/><circle cx="440.7" cy="107.3" r="2.3"/><circle cx="441.3" cy="120.7" r="2.3"/><circle cx="441.2" cy="108.7" r="2.3"/><circle cx="441.7" cy="123.7" r="2.3"/><circle cx="441.6" cy="120.9" r="2.3"/><circle cx="442.5" cy="129.0" r="2.3"/><circle cx="442.1" cy="116.1" r="2.3"/><circle cx="442.6" cy="128.7" r="2.3"/><circle cx="442.8" cy="106.5" r="2.3"/><circle cx="443.3" cy="123.2" r="2.3"/><circle cx="443.3" cy="114.6" r="2.3"/><circle cx="443.7" cy="113.7" r="2.3"/><circle cx="444.0" cy="112.7" r="2.3"/><circle cx="444.3" cy="117.9" r="2.3"/><circle cx="444.1" cy="115.5" r="2.3"/><circle cx="444.6" cy="112.4" r="2.3"/><circle cx="444.7" cy="113.5" r="2.3"/><circle cx="445.0" cy="111.4" r="2.3"/><circle cx="445.2" cy="125.8" r="2.3"/><circle cx="445.2" cy="120.1" r="2.3"/><circle cx="445.8" cy="102.0" r="2.3"/><circle cx="445.6" cy="131.9" r="2.3"/><circle cx="446.5" cy="126.5" r="2.3"/><circle cx="446.1" cy="117.1" r="2.3"/><circle cx="446.6" cy="133.3" r="2.3"/><circle cx="446.6" cy="107.3" r="2.3"/><circle cx="447.3" cy="125.2" r="2.3"/><circle cx="447.3" cy="118.8" r="2.3"/><circle cx="448.0" cy="117.9" r="2.3"/><circle cx="448.0" cy="115.2" r="2.3"/><circle cx="448.2" cy="113.9" r="2.3"/><circle cx="448.4" cy="129.9" r="2.3"/><circle cx="448.6" cy="120.7" r="2.3"/><circle cx="448.9" cy="119.7" r="2.3"/><circle cx="448.8" cy="124.4" r="2.3"/><circle cx="449.4" cy="113.8" r="2.3"/><circle cx="449.2" cy="99.6" r="2.3"/><circle cx="449.9" cy="131.6" r="2.3"/><circle cx="449.7" cy="139.7" r="2.3"/><circle cx="450.4" cy="116.5" r="2.3"/><circle cx="450.2" cy="109.9" r="2.3"/><circle cx="450.7" cy="100.7" r="2.3"/><circle cx="450.5" cy="104.0" r="2.3"/><circle cx="451.2" cy="105.7" r="2.3"/><circle cx="451.1" cy="133.5" r="2.3"/><circle cx="451.7" cy="119.4" r="2.3"/><circle cx="451.8" cy="138.5" r="2.3"/><circle cx="451.9" cy="136.8" r="2.3"/><circle cx="452.5" cy="121.0" r="2.3"/><circle cx="452.2" cy="107.0" r="2.3"/><circle cx="453.0" cy="130.9" r="2.3"/><circle cx="452.8" cy="132.0" r="2.3"/><circle cx="453.1" cy="121.3" r="2.3"/><circle cx="453.5" cy="103.6" r="2.3"/><circle cx="453.8" cy="106.8" r="2.3"/><circle cx="453.9" cy="134.1" r="2.3"/><circle cx="454.3" cy="117.3" r="2.3"/><circle cx="454.0" cy="119.7" r="2.3"/><circle cx="454.7" cy="115.8" r="2.3"/><circle cx="454.5" cy="137.7" r="2.3"/><circle cx="454.8" cy="122.6" r="2.3"/><circle cx="455.4" cy="136.4" r="2.3"/><circle cx="455.3" cy="121.7" r="2.3"/><circle cx="455.9" cy="114.4" r="2.3"/><circle cx="456.0" cy="101.0" r="2.3"/><circle cx="456.4" cy="120.8" r="2.3"/><circle cx="456.3" cy="140.2" r="2.3"/><circle cx="456.9" cy="129.6" r="2.3"/><circle cx="456.8" cy="130.9" r="2.3"/><circle cx="457.3" cy="134.5" r="2.3"/><circle cx="457.3" cy="113.7" r="2.3"/><circle cx="457.6" cy="102.2" r="2.3"/><circle cx="457.6" cy="102.4" r="2.3"/><circle cx="458.5" cy="104.5" r="2.3"/><circle cx="458.3" cy="104.2" r="2.3"/><circle cx="459.0" cy="120.3" r="2.3"/><circle cx="458.6" cy="132.1" r="2.3"/><circle cx="459.4" cy="138.3" r="2.3"/><circle cx="459.3" cy="110.1" r="2.3"/><circle cx="459.8" cy="126.7" r="2.3"/><circle cx="459.9" cy="131.6" r="2.3"/><circle cx="460.4" cy="110.0" r="2.3"/><circle cx="460.4" cy="115.9" r="2.3"/><circle cx="460.1" cy="101.3" r="2.3"/><circle cx="460.8" cy="112.8" r="2.3"/><circle cx="460.5" cy="118.0" r="2.3"/><circle cx="461.2" cy="111.4" r="2.3"/><circle cx="461.3" cy="119.8" r="2.3"/><circle cx="461.8" cy="138.5" r="2.3"/><circle cx="462.4" cy="110.8" r="2.3"/><circle cx="462.5" cy="99.9" r="2.3"/><circle cx="462.7" cy="133.1" r="2.3"/><circle cx="462.6" cy="103.2" r="2.3"/><circle cx="463.5" cy="98.6" r="2.3"/><circle cx="463.1" cy="115.1" r="2.3"/><circle cx="463.9" cy="124.5" r="2.3"/><circle cx="464.0" cy="128.3" r="2.3"/><circle cx="464.2" cy="133.2" r="2.3"/><circle cx="464.2" cy="104.0" r="2.3"/><circle cx="464.8" cy="116.6" r="2.3"/><circle cx="464.6" cy="106.7" r="2.3"/><circle cx="465.0" cy="101.9" r="2.3"/><circle cx="465.2" cy="132.2" r="2.3"/><circle cx="466.0" cy="117.6" r="2.3"/><circle cx="465.8" cy="115.9" r="2.3"/><circle cx="466.4" cy="124.6" r="2.3"/><circle cx="466.5" cy="129.8" r="2.3"/><circle cx="466.8" cy="120.2" r="2.3"/><circle cx="466.6" cy="115.8" r="2.3"/><circle cx="467.2" cy="104.0" r="2.3"/><circle cx="467.6" cy="113.3" r="2.3"/><circle cx="467.6" cy="121.1" r="2.3"/><circle cx="468.2" cy="133.3" r="2.3"/><circle cx="468.3" cy="117.0" r="2.3"/><circle cx="468.7" cy="112.4" r="2.3"/><circle cx="468.6" cy="135.3" r="2.3"/><circle cx="469.3" cy="103.3" r="2.3"/><circle cx="469.3" cy="104.2" r="2.3"/><circle cx="469.7" cy="119.1" r="2.3"/><circle cx="470.1" cy="106.4" r="2.3"/><circle cx="470.4" cy="115.4" r="2.3"/><circle cx="470.9" cy="103.7" r="2.3"/><circle cx="470.5" cy="129.9" r="2.3"/><circle cx="471.3" cy="122.4" r="2.3"/><circle cx="471.3" cy="103.3" r="2.3"/><circle cx="472.0" cy="115.3" r="2.3"/><circle cx="472.5" cy="102.9" r="2.3"/><circle cx="472.1" cy="116.9" r="2.3"/><circle cx="472.6" cy="127.3" r="2.3"/><circle cx="472.6" cy="101.2" r="2.3"/><circle cx="473.5" cy="127.6" r="2.3"/><circle cx="473.8" cy="111.9" r="2.3"/><circle cx="473.5" cy="125.6" r="2.3"/><circle cx="474.1" cy="104.0" r="2.3"/><circle cx="474.2" cy="126.3" r="2.3"/><circle cx="474.6" cy="100.4" r="2.3"/><circle cx="475.5" cy="97.1" r="2.3"/><circle cx="475.1" cy="103.8" r="2.3"/><circle cx="475.7" cy="126.0" r="2.3"/><circle cx="475.9" cy="114.4" r="2.3"/><circle cx="476.0" cy="102.3" r="2.3"/><circle cx="476.6" cy="122.1" r="2.3"/><circle cx="477.0" cy="95.0" r="2.3"/><circle cx="477.1" cy="102.8" r="2.3"/><circle cx="477.6" cy="124.4" r="2.3"/><circle cx="477.6" cy="119.1" r="2.3"/><circle cx="478.1" cy="116.7" r="2.3"/><circle cx="478.1" cy="114.7" r="2.3"/><circle cx="478.9" cy="123.3" r="2.3"/><circle cx="479.2" cy="122.5" r="2.3"/><circle cx="479.5" cy="129.1" r="2.3"/><circle cx="479.6" cy="103.9" r="2.3"/><circle cx="480.3" cy="122.3" r="2.3"/><circle cx="480.1" cy="118.8" r="2.3"/><circle cx="480.7" cy="95.5" r="2.3"/><circle cx="481.1" cy="123.1" r="2.3"/><circle cx="481.3" cy="120.9" r="2.3"/><circle cx="482.0" cy="106.6" r="2.3"/><circle cx="482.3" cy="114.0" r="2.3"/><circle cx="482.3" cy="98.3" r="2.3"/><circle cx="482.7" cy="114.6" r="2.3"/><circle cx="483.4" cy="118.3" r="2.3"/><circle cx="483.2" cy="103.0" r="2.3"/><circle cx="483.9" cy="95.0" r="2.3"/><circle cx="484.4" cy="103.1" r="2.3"/><circle cx="484.2" cy="103.0" r="2.3"/><circle cx="484.9" cy="98.9" r="2.3"/><circle cx="485.1" cy="97.5" r="2.3"/><circle cx="485.5" cy="95.9" r="2.3"/><circle cx="485.7" cy="103.8" r="2.3"/><circle cx="486.2" cy="103.4" r="2.3"/><circle cx="486.1" cy="105.6" r="2.3"/><circle cx="486.6" cy="98.1" r="2.3"/><circle cx="487.4" cy="124.0" r="2.3"/><circle cx="487.9" cy="114.0" r="2.3"/><circle cx="487.6" cy="96.6" r="2.3"/><circle cx="488.5" cy="112.4" r="2.3"/><circle cx="488.9" cy="97.4" r="2.3"/><circle cx="488.9" cy="108.2" r="2.3"/><circle cx="489.0" cy="99.2" r="2.3"/><circle cx="490.0" cy="110.4" r="2.3"/><circle cx="489.5" cy="95.6" r="2.3"/><circle cx="490.2" cy="97.0" r="2.3"/><circle cx="490.6" cy="106.8" r="2.3"/><circle cx="491.2" cy="98.2" r="2.3"/><circle cx="491.1" cy="105.2" r="2.3"/><circle cx="491.6" cy="93.1" r="2.3"/><circle cx="492.2" cy="94.1" r="2.3"/><circle cx="492.4" cy="115.7" r="2.3"/><circle cx="492.6" cy="104.3" r="2.3"/><circle cx="493.2" cy="95.2" r="2.3"/><circle cx="494.0" cy="111.0" r="2.3"/><circle cx="494.0" cy="94.0" r="2.3"/><circle cx="494.4" cy="119.0" r="2.3"/><circle cx="494.8" cy="105.6" r="2.3"/><circle cx="494.9" cy="108.2" r="2.3"/><circle cx="495.3" cy="103.4" r="2.3"/><circle cx="495.8" cy="108.2" r="2.3"/><circle cx="496.5" cy="113.0" r="2.3"/><circle cx="496.2" cy="111.6" r="2.3"/><circle cx="496.6" cy="105.2" r="2.3"/><circle cx="497.3" cy="111.6" r="2.3"/><circle cx="497.5" cy="96.2" r="2.3"/><circle cx="497.6" cy="108.6" r="2.3"/><circle cx="498.1" cy="107.0" r="2.3"/><circle cx="498.9" cy="103.4" r="2.3"/><circle cx="499.1" cy="107.7" r="2.3"/><circle cx="499.2" cy="103.5" r="2.3"/><circle cx="499.6" cy="109.9" r="2.3"/><circle cx="500.2" cy="115.3" r="2.3"/><circle cx="500.2" cy="109.7" r="2.3"/><circle cx="501.0" cy="121.6" r="2.3"/><circle cx="501.1" cy="117.1" r="2.3"/><circle cx="501.9" cy="98.7" r="2.3"/><circle cx="502.4" cy="106.6" r="2.3"/><circle cx="502.2" cy="108.3" r="2.3"/><circle cx="502.7" cy="109.0" r="2.3"/><circle cx="503.3" cy="90.6" r="2.3"/><circle cx="503.9" cy="105.9" r="2.3"/><circle cx="503.8" cy="96.0" r="2.3"/><circle cx="504.1" cy="112.9" r="2.3"/><circle cx="504.5" cy="116.4" r="2.3"/><circle cx="505.3" cy="94.4" r="2.3"/><circle cx="505.7" cy="112.5" r="2.3"/><circle cx="505.7" cy="96.9" r="2.3"/><circle cx="506.0" cy="118.3" r="2.3"/><circle cx="506.8" cy="99.5" r="2.3"/><circle cx="507.3" cy="109.6" r="2.3"/><circle cx="507.6" cy="98.7" r="2.3"/><circle cx="508.0" cy="97.8" r="2.3"/><circle cx="508.2" cy="103.9" r="2.3"/><circle cx="508.9" cy="113.8" r="2.3"/><circle cx="509.4" cy="108.1" r="2.3"/><circle cx="509.8" cy="96.6" r="2.3"/><circle cx="510.3" cy="103.4" r="2.3"/><circle cx="510.9" cy="102.0" r="2.3"/><circle cx="511.1" cy="102.2" r="2.3"/><circle cx="511.4" cy="104.9" r="2.3"/><circle cx="511.8" cy="94.5" r="2.3"/><circle cx="512.2" cy="97.2" r="2.3"/><circle cx="513.0" cy="100.9" r="2.3"/><circle cx="513.0" cy="98.8" r="2.3"/><circle cx="513.8" cy="107.8" r="2.3"/><circle cx="514.4" cy="98.7" r="2.3"/><circle cx="514.8" cy="108.5" r="2.3"/><circle cx="515.2" cy="96.7" r="2.3"/><circle cx="515.5" cy="115.2" r="2.3"/><circle cx="516.4" cy="103.7" r="2.3"/><circle cx="516.8" cy="104.5" r="2.3"/><circle cx="517.3" cy="95.7" r="2.3"/><circle cx="517.8" cy="107.8" r="2.3"/><circle cx="517.9" cy="107.7" r="2.3"/><circle cx="518.1" cy="112.3" r="2.3"/><circle cx="518.7" cy="106.5" r="2.3"/><circle cx="519.9" cy="114.8" r="2.3"/><circle cx="520.1" cy="104.0" r="2.3"/><circle cx="520.7" cy="112.9" r="2.3"/><circle cx="521.2" cy="114.8" r="2.3"/><circle cx="521.9" cy="109.0" r="2.3"/><circle cx="522.1" cy="100.4" r="2.3"/><circle cx="522.6" cy="112.4" r="2.3"/><circle cx="523.2" cy="100.6" r="2.3"/><circle cx="523.9" cy="114.0" r="2.3"/><circle cx="524.1" cy="109.2" r="2.3"/><circle cx="524.6" cy="111.4" r="2.3"/><circle cx="525.4" cy="110.9" r="2.3"/><circle cx="525.8" cy="97.3" r="2.3"/><circle cx="526.8" cy="114.2" r="2.3"/><circle cx="527.1" cy="104.7" r="2.3"/><circle cx="527.8" cy="108.2" r="2.3"/><circle cx="528.2" cy="103.5" r="2.3"/><circle cx="529.4" cy="109.7" r="2.3"/><circle cx="529.6" cy="108.9" r="2.3"/><circle cx="530.9" cy="107.4" r="2.3"/><circle cx="531.4" cy="100.8" r="2.3"/><circle cx="532.1" cy="112.5" r="2.3"/><circle cx="532.6" cy="113.7" r="2.3"/><circle cx="533.9" cy="99.9" r="2.3"/><circle cx="534.9" cy="100.1" r="2.3"/><circle cx="535.8" cy="94.3" r="2.3"/><circle cx="536.8" cy="108.0" r="2.3"/><circle cx="537.6" cy="105.1" r="2.3"/><circle cx="538.9" cy="103.8" r="2.3"/><circle cx="540.4" cy="107.6" r="2.3"/><circle cx="541.4" cy="109.8" r="2.3"/><circle cx="542.7" cy="109.6" r="2.3"/><circle cx="544.9" cy="105.2" r="2.3"/><circle cx="546.9" cy="105.2" r="2.3"/><circle cx="549.3" cy="104.2" r="2.3"/><circle cx="552.2" cy="103.9" r="2.3"/><circle cx="555.9" cy="107.7" r="2.3"/><circle cx="559.8" cy="106.5" r="2.3"/><circle cx="565.2" cy="100.9" r="2.3"/><circle cx="572.7" cy="106.2" r="2.3"/><circle cx="468.2" cy="11.2" r="2.3"/><circle cx="392.2" cy="65.8" r="2.3"/><circle cx="411.5" cy="71.0" r="2.3"/><circle cx="414.8" cy="74.6" r="2.3"/><circle cx="442.7" cy="76.1" r="2.3"/><circle cx="487.2" cy="71.3" r="2.3"/><circle cx="473.0" cy="81.2" r="2.3"/><circle cx="473.8" cy="86.6" r="2.3"/><circle cx="407.5" cy="83.8" r="2.3"/><circle cx="420.3" cy="85.3" r="2.3"/><circle cx="426.2" cy="83.1" r="2.3"/><circle cx="431.7" cy="83.8" r="2.3"/><circle cx="398.3" cy="88.8" r="2.3"/><circle cx="403.1" cy="88.2" r="2.3"/><circle cx="386.7" cy="91.0" r="2.3"/><circle cx="459.1" cy="90.4" r="2.3"/><circle cx="453.6" cy="93.0" r="2.3"/><circle cx="463.5" cy="95.9" r="2.3"/><circle cx="480.0" cy="89.7" r="2.3"/><circle cx="476.7" cy="93.7" r="2.3"/><circle cx="433.9" cy="92.6" r="2.3"/><circle cx="436.5" cy="95.9" r="2.3"/><circle cx="443.8" cy="96.5" r="2.3"/><circle cx="411.9" cy="96.3" r="2.3"/><circle cx="402.7" cy="97.6" r="2.3"/><circle cx="418.1" cy="94.8" r="2.3"/><circle cx="422.9" cy="95.9" r="2.3"/><circle cx="386.7" cy="95.9" r="2.3"/><circle cx="392.2" cy="95.4" r="2.3"/><circle cx="396.1" cy="127.2" r="2.3"/><circle cx="398.0" cy="132.0" r="2.3"/><circle cx="395.1" cy="138.6" r="2.3"/><circle cx="394.2" cy="145.3" r="2.3"/><circle cx="399.9" cy="135.8" r="2.3"/><circle cx="403.3" cy="129.7" r="2.3"/><circle cx="405.6" cy="149.0" r="2.3"/><circle cx="407.1" cy="160.4" r="2.3"/><circle cx="401.8" cy="176.9" r="2.3"/><circle cx="419.8" cy="134.8" r="2.3"/><circle cx="422.6" cy="138.6" r="2.3"/><circle cx="429.3" cy="143.4" r="2.3"/><circle cx="434.0" cy="141.5" r="2.3"/><circle cx="426.4" cy="150.0" r="2.3"/><circle cx="431.2" cy="153.8" r="2.3"/><circle cx="435.9" cy="158.2" r="2.3"/><circle cx="440.6" cy="158.5" r="2.3"/><circle cx="439.3" cy="171.8" r="2.3"/><circle cx="439.7" cy="177.9" r="2.3"/><circle cx="453.0" cy="150.0" r="2.3"/><circle cx="454.5" cy="159.5" r="2.3"/><circle cx="450.1" cy="137.7" r="2.3"/><circle cx="455.8" cy="139.6" r="2.3"/><circle cx="466.2" cy="145.3" r="2.3"/><circle cx="468.1" cy="142.4" r="2.3"/><circle cx="479.5" cy="140.5" r="2.3"/><circle cx="476.7" cy="136.7" r="2.3"/><circle cx="485.2" cy="133.9" r="2.3"/><circle cx="566.8" cy="54.6" r="2.3"/><circle cx="526.2" cy="61.8" r="2.3"/><circle cx="541.6" cy="63.4" r="2.3"/><circle cx="547.5" cy="62.9" r="2.3"/><circle cx="557.4" cy="62.3" r="2.3"/><circle cx="504.2" cy="64.0" r="2.3"/><circle cx="522.9" cy="69.5" r="2.3"/><circle cx="510.8" cy="75.7" r="2.3"/><circle cx="500.3" cy="81.2" r="2.3"/><circle cx="504.9" cy="82.2" r="2.3"/><circle cx="520.7" cy="81.2" r="2.3"/><circle cx="559.1" cy="80.9" r="2.3"/><circle cx="556.9" cy="84.4" r="2.3"/><circle cx="559.8" cy="86.0" r="2.3"/><circle cx="554.7" cy="87.5" r="2.3"/><circle cx="558.0" cy="89.3" r="2.3"/><circle cx="556.9" cy="91.5" r="2.3"/><circle cx="542.7" cy="89.3" r="2.3"/><circle cx="521.8" cy="87.5" r="2.3"/><circle cx="513.7" cy="88.2" r="2.3"/><circle cx="488.9" cy="89.3" r="2.3"/><circle cx="577.4" cy="93.2" r="2.3"/><circle cx="585.9" cy="95.4" r="2.3"/><circle cx="522.9" cy="93.7" r="2.3"/><circle cx="525.1" cy="95.9" r="2.3"/><circle cx="544.9" cy="98.1" r="2.3"/><circle cx="549.3" cy="98.1" r="2.3"/><circle cx="544.4" cy="100.3" r="2.3"/><circle cx="563.5" cy="99.2" r="2.3"/><circle cx="569.0" cy="100.7" r="2.3"/><circle cx="574.5" cy="100.3" r="2.3"/><circle cx="562.4" cy="105.7" r="2.3"/><circle cx="566.8" cy="104.6" r="2.3"/><circle cx="567.9" cy="107.9" r="2.3"/><circle cx="565.7" cy="111.2" r="2.3"/><circle cx="558.0" cy="110.1" r="2.3"/><circle cx="580.0" cy="110.8" r="2.3"/><circle cx="544.9" cy="115.6" r="2.3"/><circle cx="551.4" cy="120.0" r="2.3"/><circle cx="554.7" cy="117.8" r="2.3"/><circle cx="549.3" cy="122.2" r="2.3"/><circle cx="538.3" cy="111.2" r="2.3"/><circle cx="537.2" cy="116.7" r="2.3"/><circle cx="526.2" cy="119.6" r="2.3"/><circle cx="528.4" cy="124.4" r="2.3"/><circle cx="525.1" cy="128.8" r="2.3"/><circle cx="530.6" cy="114.5" r="2.3"/><circle cx="525.1" cy="112.3" r="2.3"/><circle cx="562.4" cy="124.4" r="2.3"/><circle cx="562.4" cy="131.6" r="2.3"/><circle cx="573.8" cy="122.2" r="2.3"/><circle cx="586.1" cy="128.8" r="2.3"/><circle cx="542.7" cy="138.2" r="2.3"/><circle cx="503.1" cy="126.6" r="2.3"/><circle cx="502.1" cy="129.9" r="2.3"/><circle cx="505.3" cy="125.5" r="2.3"/><circle cx="509.7" cy="122.2" r="2.3"/><circle cx="510.8" cy="124.4" r="2.3"/><circle cx="485.6" cy="131.0" r="2.3"/><circle cx="488.9" cy="132.1" r="2.3"/><circle cx="484.5" cy="122.2" r="2.3"/><circle cx="480.1" cy="126.6" r="2.3"/><circle cx="498.8" cy="117.8" r="2.3"/><circle cx="499.9" cy="120.0" r="2.3"/><circle cx="499.7" cy="154.5" r="2.3"/><circle cx="550.9" cy="121.6" r="2.3"/><circle cx="549.1" cy="118.9" r="2.3"/><circle cx="547.3" cy="117.1" r="2.3"/><circle cx="523.0" cy="114.4" r="2.3"/><circle cx="517.6" cy="116.5" r="2.3"/><circle cx="514.0" cy="114.4" r="2.3"/><circle cx="498.8" cy="116.2" r="2.3"/><circle cx="486.2" cy="121.6" r="2.3"/><circle cx="480.8" cy="123.4" r="2.3"/><circle cx="485.3" cy="127.0" r="2.3"/><circle cx="561.7" cy="107.2" r="2.3"/><circle cx="597.6" cy="80.0" r="2.3"/><circle cx="591.6" cy="94.5" r="2.3"/><circle cx="600.4" cy="103.9" r="2.3"/><circle cx="593.6" cy="114.3" r="2.3"/><circle cx="604.3" cy="118.3" r="2.3"/><circle cx="637.9" cy="125.5" r="2.3"/><circle cx="676.2" cy="133.3" r="2.3"/></g>
<polyline points="385.8,105.7 387.1,106.3 388.8,107.0 390.9,107.9 393.1,108.9 395.6,109.9 398.2,110.9 400.8,111.9 403.4,112.7 406.0,113.4 408.8,114.2 411.7,114.9 414.7,115.6 417.7,116.2 420.7,116.8 423.7,117.2 426.7,117.6 429.6,117.9 432.5,118.0 435.4,118.1 438.3,118.1 441.3,118.1 444.2,118.0 447.1,117.8 450.0,117.6 452.9,117.3 455.8,117.0 458.8,116.6 461.7,116.1 464.6,115.7 467.5,115.1 470.5,114.6 473.4,114.0 476.3,113.4 479.2,112.7 482.2,112.0 485.1,111.3 488.0,110.5 490.9,109.8 493.9,109.1 496.8,108.4 499.7,107.7 502.7,107.0 505.7,106.3 508.7,105.6 511.7,105.0 514.6,104.4 517.4,103.8 520.2,103.4 522.9,103.1 525.5,102.8 528.1,102.7 530.6,102.6 533.0,102.5 535.4,102.4 537.7,102.3 540.0,102.2 542.1,102.1 544.1,101.9 545.9,101.7 547.7,101.6 549.6,101.4 551.5,101.3 553.6,101.2 556.0,101.2 558.6,101.2 561.4,101.2 564.4,101.2 567.5,101.2 570.6,101.4 573.8,101.5 576.9,101.8 580.0,102.2 582.9,102.7 585.8,103.2 588.6,103.7 591.4,104.3 594.3,105.1 597.3,106.0 600.5,107.1 604.0,108.4 607.7,109.9 611.7,111.6 615.8,113.5 620.1,115.5 624.5,117.6 628.9,119.9 633.5,122.2 638.0,124.6 642.9,127.3 648.2,130.3 653.8,133.5 659.4,136.8 664.7,140.0 669.5,142.8 673.5,145.2 676.5,147.0" fill="none" stroke="#9e2a55" stroke-width="1.1"/>
<line x1="378.5" y1="1.4" x2="378.5" y2="187.7" stroke="#3a3a3a" stroke-width="1.2"/>
<line x1="377.9" y1="187.1" x2="682.2" y2="187.1" stroke="#3a3a3a" stroke-width="1.2"/>
<line x1="374.9" y1="6.6" x2="378.5" y2="6.6" stroke="#3a3a3a" stroke-width="1.1"/>
<text transform="translate(369.9,6.6) rotate(-90)" text-anchor="middle" font-size="8.7">.15</text>
<line x1="374.9" y1="41.7" x2="378.5" y2="41.7" stroke="#3a3a3a" stroke-width="1.1"/>
<text transform="translate(369.9,41.7) rotate(-90)" text-anchor="middle" font-size="8.7">.1</text>
<line x1="374.9" y1="76.7" x2="378.5" y2="76.7" stroke="#3a3a3a" stroke-width="1.1"/>
<text transform="translate(369.9,76.7) rotate(-90)" text-anchor="middle" font-size="8.7">.05</text>
<line x1="374.9" y1="111.8" x2="378.5" y2="111.8" stroke="#3a3a3a" stroke-width="1.1"/>
<text transform="translate(369.9,111.8) rotate(-90)" text-anchor="middle" font-size="8.7">0</text>
<line x1="374.9" y1="146.9" x2="378.5" y2="146.9" stroke="#3a3a3a" stroke-width="1.1"/>
<text transform="translate(369.9,146.9) rotate(-90)" text-anchor="middle" font-size="8.7">-.05</text>
<line x1="374.9" y1="181.9" x2="378.5" y2="181.9" stroke="#3a3a3a" stroke-width="1.1"/>
<text transform="translate(369.9,181.9) rotate(-90)" text-anchor="middle" font-size="8.7">-.1</text>
<line x1="384.2" y1="187.1" x2="384.2" y2="190.7" stroke="#3a3a3a" stroke-width="1.1"/>
<text x="384.2" y="199.0" text-anchor="middle" font-size="8.7">0</text>
<line x1="457.0" y1="187.1" x2="457.0" y2="190.7" stroke="#3a3a3a" stroke-width="1.1"/>
<text x="457.0" y="199.0" text-anchor="middle" font-size="8.7">2</text>
<line x1="529.8" y1="187.1" x2="529.8" y2="190.7" stroke="#3a3a3a" stroke-width="1.1"/>
<text x="529.8" y="199.0" text-anchor="middle" font-size="8.7">4</text>
<line x1="602.6" y1="187.1" x2="602.6" y2="190.7" stroke="#3a3a3a" stroke-width="1.1"/>
<text x="602.6" y="199.0" text-anchor="middle" font-size="8.7">6</text>
<line x1="675.4" y1="187.1" x2="675.4" y2="190.7" stroke="#3a3a3a" stroke-width="1.1"/>
<text x="675.4" y="199.0" text-anchor="middle" font-size="8.7">8</text>
<text transform="translate(354.5,94.2) rotate(-90)" text-anchor="middle" font-size="8.7">Per capita GDP Growth</text>
<text x="530.4" y="215.0" text-anchor="middle" font-size="8.7">Male education (average years)</text>
<rect x="408.8" y="223.5" width="242.6" height="15.6" fill="#fff" stroke="#2a2a2a" stroke-width="1.1"/>
<rect x="412.6" y="227.1" width="32.9" height="8.6" fill="#b4b4b4"/>
<text x="450.6" y="234.5" text-anchor="start" font-size="8.7">95% CI</text>
<circle cx="494.7" cy="231.0" r="2.2" fill="#15478b"/>
<text x="501.7" y="234.5" text-anchor="start" font-size="8.7">linear fit</text>
<line x1="545.0" y1="231.2" x2="577.9" y2="231.2" stroke="#9e2a55" stroke-width="1.1"/>
<text x="583.3" y="234.5" text-anchor="start" font-size="8.7">B-spline smooth</text>
<line x1="33.1" y1="270.5" x2="334.1" y2="270.5" stroke="#eaf6f1" stroke-width="1.3"/>
<line x1="33.1" y1="304.8" x2="334.1" y2="304.8" stroke="#eaf6f1" stroke-width="1.3"/>
<line x1="33.1" y1="339.0" x2="334.1" y2="339.0" stroke="#eaf6f1" stroke-width="1.3"/>
<line x1="33.1" y1="373.3" x2="334.1" y2="373.3" stroke="#eaf6f1" stroke-width="1.3"/>
<line x1="33.1" y1="407.6" x2="334.1" y2="407.6" stroke="#eaf6f1" stroke-width="1.3"/>
<line x1="33.1" y1="441.8" x2="334.1" y2="441.8" stroke="#eaf6f1" stroke-width="1.3"/>
<polygon points="38.2,288.9 40.3,289.8 42.3,290.6 44.4,291.5 46.5,292.4 48.5,293.3 50.6,294.1 52.6,295.0 54.7,295.9 56.8,296.7 58.8,297.6 60.9,298.5 63.0,299.3 65.0,300.2 67.1,301.1 69.2,301.9 71.2,302.8 73.3,303.7 75.3,304.6 77.4,305.4 79.5,306.3 81.5,307.2 83.6,308.0 85.7,308.9 87.7,309.8 89.8,310.6 91.8,311.5 93.9,312.4 96.0,313.3 98.0,314.1 100.1,315.0 102.2,316.4 104.4,317.9 106.5,319.3 108.6,320.7 110.8,322.1 112.9,323.6 115.0,325.0 117.2,326.4 119.3,327.9 121.5,329.3 123.6,330.7 125.7,332.1 127.9,333.6 130.0,335.0 132.0,336.1 134.0,337.2 136.0,338.3 138.0,339.4 140.1,340.4 142.1,341.5 144.1,342.6 146.1,343.7 148.1,344.8 150.1,345.9 152.1,347.0 154.1,348.1 156.1,349.1 158.1,350.2 160.1,351.3 162.2,352.4 164.2,353.5 166.2,354.6 168.2,355.7 170.2,356.8 172.6,358.1 175.1,359.4 177.6,360.7 180.0,362.1 182.0,363.2 184.1,364.3 186.1,365.5 188.2,366.6 190.2,367.8 192.3,368.9 194.3,370.0 196.4,371.2 198.4,372.3 200.5,373.5 202.5,374.6 204.6,375.8 206.6,376.9 208.8,378.1 210.9,379.3 213.1,380.5 215.2,381.7 217.4,382.9 219.6,384.1 221.7,385.3 223.9,386.5 226.1,387.7 228.3,388.9 230.5,390.1 232.7,391.3 234.9,392.5 237.0,393.7 239.2,394.9 241.4,395.9 243.6,396.8 245.8,397.7 247.8,398.5 249.8,399.3 251.8,400.1 253.8,400.9 255.8,401.6 257.8,402.3 259.8,403.0 261.8,403.7 263.8,404.4 265.8,405.1 267.8,405.8 269.9,406.4 272.0,407.0 274.1,407.6 276.2,408.2 278.3,408.8 280.4,409.5 282.5,410.0 284.6,410.4 286.7,410.8 288.8,411.2 290.9,411.6 293.0,411.9 295.1,412.3 297.2,412.7 299.3,413.1 301.4,413.5 301.4,437.2 299.3,436.0 297.2,434.8 295.1,433.5 293.0,432.3 290.9,431.1 288.8,429.9 286.7,428.7 284.6,427.4 282.5,426.2 280.4,425.0 278.3,423.8 276.2,422.6 274.1,421.3 272.0,420.1 269.9,418.9 267.8,417.7 265.8,416.3 263.8,414.9 261.8,413.5 259.8,412.1 257.8,410.7 255.8,409.3 253.8,408.0 251.8,406.7 249.8,405.5 247.8,404.3 245.8,403.0 243.6,401.6 241.4,400.2 239.2,398.9 237.0,397.7 234.9,396.5 232.7,395.4 230.5,394.2 228.3,393.1 226.1,391.9 223.9,390.7 221.7,389.6 219.6,388.4 217.4,387.3 215.2,386.1 213.1,385.0 210.9,383.8 208.8,382.7 206.6,381.5 204.6,380.4 202.5,379.3 200.5,378.2 198.4,377.1 196.4,376.0 194.3,374.9 192.3,373.8 190.2,372.7 188.2,371.6 186.1,370.5 184.1,369.4 182.0,368.2 180.0,367.1 177.6,365.9 175.1,364.6 172.6,363.3 170.2,362.0 168.2,361.0 166.2,359.9 164.2,358.9 162.2,357.8 160.1,356.8 158.1,355.7 156.1,354.7 154.1,353.6 152.1,352.6 150.1,351.5 148.1,350.5 146.1,349.4 144.1,348.4 142.1,347.3 140.1,346.3 138.0,345.2 136.0,344.2 134.0,343.1 132.0,342.1 130.0,341.0 127.9,340.4 125.7,339.9 123.6,339.3 121.5,338.8 119.3,338.2 117.2,337.7 115.0,337.1 112.9,336.6 110.8,336.1 108.6,335.5 106.5,334.9 104.4,334.4 102.2,333.9 100.1,333.3 98.0,333.8 96.0,334.3 93.9,334.7 91.8,335.2 89.8,335.7 87.7,336.2 85.7,336.7 83.6,337.1 81.5,337.6 79.5,338.1 77.4,338.6 75.3,339.1 73.3,339.5 71.2,340.0 69.2,340.5 67.1,341.0 65.0,341.5 63.0,341.9 60.9,342.4 58.8,342.9 56.8,343.4 54.7,343.9 52.6,344.3 50.6,344.8 48.5,345.3 46.5,345.8 44.4,346.3 42.3,346.7 40.3,347.2 38.2,347.7" fill="#b4b4b4"/>
<g fill="#15478b"><circle cx="161.1" cy="367.7" r="2.3"/><circle cx="161.8" cy="374.1" r="2.3"/><circle cx="161.6" cy="350.0" r="2.3"/><circle cx="162.1" cy="349.8" r="2.3"/><circle cx="162.4" cy="346.1" r="2.3"/><circle cx="162.8" cy="349.3" r="2.3"/><circle cx="162.6" cy="357.8" r="2.3"/><circle cx="163.4" cy="364.7" r="2.3"/><circle cx="163.0" cy="351.8" r="2.3"/><circle cx="163.6" cy="375.0" r="2.3"/><circle cx="163.9" cy="372.4" r="2.3"/><circle cx="164.4" cy="370.0" r="2.3"/><circle cx="164.5" cy="372.0" r="2.3"/><circle cx="164.6" cy="374.1" r="2.3"/><circle cx="164.7" cy="370.4" r="2.3"/><circle cx="165.3" cy="357.8" r="2.3"/><circle cx="165.2" cy="357.8" r="2.3"/><circle cx="165.7" cy="345.6" r="2.3"/><circle cx="165.9" cy="372.1" r="2.3"/><circle cx="166.5" cy="368.1" r="2.3"/><circle cx="166.3" cy="370.4" r="2.3"/><circle cx="166.6" cy="367.7" r="2.3"/><circle cx="166.7" cy="347.9" r="2.3"/><circle cx="167.1" cy="361.7" r="2.3"/><circle cx="167.1" cy="359.2" r="2.3"/><circle cx="167.8" cy="356.7" r="2.3"/><circle cx="167.6" cy="360.6" r="2.3"/><circle cx="167.6" cy="350.3" r="2.3"/><circle cx="168.1" cy="355.6" r="2.3"/><circle cx="168.0" cy="367.2" r="2.3"/><circle cx="169.0" cy="356.6" r="2.3"/><circle cx="168.9" cy="379.8" r="2.3"/><circle cx="169.4" cy="375.2" r="2.3"/><circle cx="169.3" cy="347.2" r="2.3"/><circle cx="169.7" cy="376.6" r="2.3"/><circle cx="169.9" cy="373.9" r="2.3"/><circle cx="170.1" cy="376.2" r="2.3"/><circle cx="170.2" cy="370.5" r="2.3"/><circle cx="170.1" cy="381.4" r="2.3"/><circle cx="170.8" cy="370.9" r="2.3"/><circle cx="170.6" cy="366.5" r="2.3"/><circle cx="171.3" cy="365.5" r="2.3"/><circle cx="171.2" cy="371.3" r="2.3"/><circle cx="171.7" cy="353.0" r="2.3"/><circle cx="171.6" cy="369.6" r="2.3"/><circle cx="171.6" cy="350.0" r="2.3"/><circle cx="172.0" cy="368.1" r="2.3"/><circle cx="172.3" cy="363.7" r="2.3"/><circle cx="172.5" cy="359.4" r="2.3"/><circle cx="172.7" cy="344.3" r="2.3"/><circle cx="172.5" cy="384.7" r="2.3"/><circle cx="173.1" cy="366.3" r="2.3"/><circle cx="173.0" cy="360.8" r="2.3"/><circle cx="173.7" cy="376.9" r="2.3"/><circle cx="173.5" cy="354.9" r="2.3"/><circle cx="173.7" cy="383.9" r="2.3"/><circle cx="174.3" cy="361.1" r="2.3"/><circle cx="174.3" cy="353.3" r="2.3"/><circle cx="174.0" cy="362.4" r="2.3"/><circle cx="175.0" cy="373.0" r="2.3"/><circle cx="174.6" cy="370.6" r="2.3"/><circle cx="175.4" cy="351.6" r="2.3"/><circle cx="175.3" cy="356.0" r="2.3"/><circle cx="175.1" cy="352.9" r="2.3"/><circle cx="175.6" cy="355.9" r="2.3"/><circle cx="175.5" cy="358.0" r="2.3"/><circle cx="175.5" cy="374.3" r="2.3"/><circle cx="176.3" cy="340.6" r="2.3"/><circle cx="176.2" cy="365.2" r="2.3"/><circle cx="176.2" cy="353.3" r="2.3"/><circle cx="176.7" cy="346.5" r="2.3"/><circle cx="176.9" cy="345.4" r="2.3"/><circle cx="177.4" cy="350.3" r="2.3"/><circle cx="177.2" cy="358.0" r="2.3"/><circle cx="177.0" cy="346.2" r="2.3"/><circle cx="177.7" cy="360.5" r="2.3"/><circle cx="177.9" cy="384.1" r="2.3"/><circle cx="177.5" cy="364.7" r="2.3"/><circle cx="178.1" cy="377.0" r="2.3"/><circle cx="178.2" cy="381.0" r="2.3"/><circle cx="178.3" cy="346.3" r="2.3"/><circle cx="178.5" cy="352.0" r="2.3"/><circle cx="178.9" cy="347.5" r="2.3"/><circle cx="178.7" cy="357.6" r="2.3"/><circle cx="179.2" cy="377.2" r="2.3"/><circle cx="179.1" cy="373.4" r="2.3"/><circle cx="179.8" cy="379.4" r="2.3"/><circle cx="179.7" cy="367.0" r="2.3"/><circle cx="179.8" cy="379.1" r="2.3"/><circle cx="180.4" cy="346.2" r="2.3"/><circle cx="180.1" cy="365.3" r="2.3"/><circle cx="180.4" cy="365.3" r="2.3"/><circle cx="180.6" cy="384.4" r="2.3"/><circle cx="180.6" cy="345.1" r="2.3"/><circle cx="180.5" cy="342.4" r="2.3"/><circle cx="181.4" cy="380.7" r="2.3"/><circle cx="181.5" cy="378.1" r="2.3"/><circle cx="181.2" cy="369.6" r="2.3"/><circle cx="181.9" cy="374.0" r="2.3"/><circle cx="181.6" cy="376.1" r="2.3"/><circle cx="181.6" cy="355.4" r="2.3"/><circle cx="182.5" cy="362.9" r="2.3"/><circle cx="182.1" cy="377.3" r="2.3"/><circle cx="182.2" cy="340.7" r="2.3"/><circle cx="182.5" cy="353.4" r="2.3"/><circle cx="182.7" cy="384.4" r="2.3"/><circle cx="183.4" cy="360.7" r="2.3"/><circle cx="183.5" cy="376.5" r="2.3"/><circle cx="183.2" cy="353.6" r="2.3"/><circle cx="183.7" cy="383.1" r="2.3"/><circle cx="183.8" cy="350.6" r="2.3"/><circle cx="183.7" cy="363.5" r="2.3"/><circle cx="184.1" cy="368.1" r="2.3"/><circle cx="184.0" cy="379.5" r="2.3"/><circle cx="184.1" cy="346.5" r="2.3"/><circle cx="184.8" cy="356.0" r="2.3"/><circle cx="184.9" cy="364.7" r="2.3"/><circle cx="184.8" cy="380.2" r="2.3"/><circle cx="185.1" cy="376.3" r="2.3"/><circle cx="185.3" cy="361.7" r="2.3"/><circle cx="185.5" cy="346.5" r="2.3"/><circle cx="185.9" cy="348.9" r="2.3"/><circle cx="185.9" cy="349.3" r="2.3"/><circle cx="185.5" cy="365.3" r="2.3"/><circle cx="186.5" cy="354.4" r="2.3"/><circle cx="186.2" cy="370.4" r="2.3"/><circle cx="186.1" cy="366.8" r="2.3"/><circle cx="186.5" cy="363.4" r="2.3"/><circle cx="186.9" cy="358.4" r="2.3"/><circle cx="186.6" cy="344.6" r="2.3"/><circle cx="187.5" cy="376.8" r="2.3"/><circle cx="187.1" cy="384.7" r="2.3"/><circle cx="187.5" cy="380.3" r="2.3"/><circle cx="187.9" cy="374.3" r="2.3"/><circle cx="187.9" cy="373.7" r="2.3"/><circle cx="187.8" cy="355.1" r="2.3"/><circle cx="188.1" cy="376.6" r="2.3"/><circle cx="188.3" cy="344.5" r="2.3"/><circle cx="188.3" cy="371.3" r="2.3"/><circle cx="188.8" cy="378.9" r="2.3"/><circle cx="188.9" cy="361.2" r="2.3"/><circle cx="189.4" cy="366.8" r="2.3"/><circle cx="189.3" cy="362.9" r="2.3"/><circle cx="189.5" cy="364.3" r="2.3"/><circle cx="190.0" cy="359.8" r="2.3"/><circle cx="189.8" cy="385.4" r="2.3"/><circle cx="189.8" cy="361.5" r="2.3"/><circle cx="190.0" cy="366.3" r="2.3"/><circle cx="190.2" cy="381.2" r="2.3"/><circle cx="190.4" cy="387.1" r="2.3"/><circle cx="190.8" cy="378.5" r="2.3"/><circle cx="190.5" cy="354.9" r="2.3"/><circle cx="190.6" cy="359.7" r="2.3"/><circle cx="191.1" cy="389.0" r="2.3"/><circle cx="191.1" cy="386.5" r="2.3"/><circle cx="191.5" cy="349.5" r="2.3"/><circle cx="191.6" cy="351.6" r="2.3"/><circle cx="191.5" cy="362.9" r="2.3"/><circle cx="191.6" cy="352.9" r="2.3"/><circle cx="192.0" cy="376.9" r="2.3"/><circle cx="192.0" cy="356.4" r="2.3"/><circle cx="192.8" cy="385.2" r="2.3"/><circle cx="192.8" cy="377.5" r="2.3"/><circle cx="192.9" cy="381.4" r="2.3"/><circle cx="193.4" cy="353.6" r="2.3"/><circle cx="193.0" cy="373.9" r="2.3"/><circle cx="193.3" cy="369.5" r="2.3"/><circle cx="193.9" cy="354.7" r="2.3"/><circle cx="193.9" cy="365.6" r="2.3"/><circle cx="193.7" cy="357.7" r="2.3"/><circle cx="194.1" cy="372.5" r="2.3"/><circle cx="194.3" cy="386.7" r="2.3"/><circle cx="194.1" cy="378.4" r="2.3"/><circle cx="194.5" cy="375.8" r="2.3"/><circle cx="194.6" cy="384.7" r="2.3"/><circle cx="195.5" cy="358.9" r="2.3"/><circle cx="195.4" cy="357.4" r="2.3"/><circle cx="195.2" cy="352.4" r="2.3"/><circle cx="195.7" cy="352.9" r="2.3"/><circle cx="195.9" cy="373.1" r="2.3"/><circle cx="195.7" cy="378.9" r="2.3"/><circle cx="196.1" cy="363.1" r="2.3"/><circle cx="196.2" cy="350.2" r="2.3"/><circle cx="196.4" cy="352.7" r="2.3"/><circle cx="196.6" cy="383.4" r="2.3"/><circle cx="196.9" cy="368.5" r="2.3"/><circle cx="197.2" cy="355.8" r="2.3"/><circle cx="197.0" cy="371.9" r="2.3"/><circle cx="197.1" cy="356.3" r="2.3"/><circle cx="198.0" cy="349.2" r="2.3"/><circle cx="197.9" cy="354.9" r="2.3"/><circle cx="197.9" cy="374.2" r="2.3"/><circle cx="198.3" cy="392.8" r="2.3"/><circle cx="198.4" cy="376.0" r="2.3"/><circle cx="198.9" cy="371.9" r="2.3"/><circle cx="198.8" cy="385.6" r="2.3"/><circle cx="198.8" cy="367.1" r="2.3"/><circle cx="199.0" cy="384.7" r="2.3"/><circle cx="199.2" cy="369.7" r="2.3"/><circle cx="199.6" cy="375.4" r="2.3"/><circle cx="199.7" cy="386.9" r="2.3"/><circle cx="199.8" cy="375.5" r="2.3"/><circle cx="200.4" cy="371.0" r="2.3"/><circle cx="200.3" cy="383.8" r="2.3"/><circle cx="200.4" cy="383.5" r="2.3"/><circle cx="200.9" cy="376.2" r="2.3"/><circle cx="200.8" cy="361.0" r="2.3"/><circle cx="201.1" cy="371.5" r="2.3"/><circle cx="201.2" cy="390.6" r="2.3"/><circle cx="201.0" cy="368.1" r="2.3"/><circle cx="201.9" cy="373.0" r="2.3"/><circle cx="201.9" cy="360.7" r="2.3"/><circle cx="202.4" cy="372.2" r="2.3"/><circle cx="202.3" cy="354.3" r="2.3"/><circle cx="202.4" cy="377.6" r="2.3"/><circle cx="202.7" cy="358.5" r="2.3"/><circle cx="202.8" cy="373.2" r="2.3"/><circle cx="203.4" cy="380.3" r="2.3"/><circle cx="203.2" cy="391.0" r="2.3"/><circle cx="203.1" cy="398.5" r="2.3"/><circle cx="203.8" cy="374.1" r="2.3"/><circle cx="204.0" cy="376.7" r="2.3"/><circle cx="204.3" cy="361.4" r="2.3"/><circle cx="204.4" cy="382.2" r="2.3"/><circle cx="204.1" cy="361.1" r="2.3"/><circle cx="204.7" cy="395.8" r="2.3"/><circle cx="204.5" cy="390.2" r="2.3"/><circle cx="205.1" cy="386.5" r="2.3"/><circle cx="205.2" cy="394.3" r="2.3"/><circle cx="205.1" cy="389.0" r="2.3"/><circle cx="205.9" cy="357.2" r="2.3"/><circle cx="205.8" cy="395.4" r="2.3"/><circle cx="206.3" cy="377.8" r="2.3"/><circle cx="206.3" cy="368.1" r="2.3"/><circle cx="206.7" cy="363.4" r="2.3"/><circle cx="206.9" cy="360.3" r="2.3"/><circle cx="206.8" cy="360.8" r="2.3"/><circle cx="207.0" cy="383.6" r="2.3"/><circle cx="207.4" cy="393.9" r="2.3"/><circle cx="207.8" cy="399.9" r="2.3"/><circle cx="207.8" cy="366.5" r="2.3"/><circle cx="208.1" cy="369.4" r="2.3"/><circle cx="208.3" cy="390.5" r="2.3"/><circle cx="208.4" cy="382.2" r="2.3"/><circle cx="208.5" cy="388.3" r="2.3"/><circle cx="208.8" cy="367.1" r="2.3"/><circle cx="209.3" cy="370.4" r="2.3"/><circle cx="209.2" cy="378.3" r="2.3"/><circle cx="209.9" cy="365.6" r="2.3"/><circle cx="209.7" cy="370.4" r="2.3"/><circle cx="210.3" cy="392.8" r="2.3"/><circle cx="210.1" cy="389.2" r="2.3"/><circle cx="210.2" cy="370.2" r="2.3"/><circle cx="210.6" cy="382.6" r="2.3"/><circle cx="210.9" cy="385.0" r="2.3"/><circle cx="211.0" cy="392.1" r="2.3"/><circle cx="211.3" cy="378.7" r="2.3"/><circle cx="211.6" cy="379.7" r="2.3"/><circle cx="211.8" cy="373.4" r="2.3"/><circle cx="212.1" cy="396.3" r="2.3"/><circle cx="212.2" cy="368.3" r="2.3"/><circle cx="212.9" cy="368.2" r="2.3"/><circle cx="212.7" cy="387.0" r="2.3"/><circle cx="212.8" cy="397.3" r="2.3"/><circle cx="213.1" cy="385.5" r="2.3"/><circle cx="213.4" cy="381.8" r="2.3"/><circle cx="213.9" cy="382.1" r="2.3"/><circle cx="213.9" cy="398.4" r="2.3"/><circle cx="214.2" cy="397.7" r="2.3"/><circle cx="214.4" cy="396.6" r="2.3"/><circle cx="214.9" cy="387.4" r="2.3"/><circle cx="215.0" cy="371.6" r="2.3"/><circle cx="215.3" cy="371.6" r="2.3"/><circle cx="215.3" cy="391.0" r="2.3"/><circle cx="215.6" cy="395.6" r="2.3"/><circle cx="215.7" cy="373.9" r="2.3"/><circle cx="216.1" cy="387.6" r="2.3"/><circle cx="216.2" cy="367.3" r="2.3"/><circle cx="216.7" cy="391.5" r="2.3"/><circle cx="216.7" cy="374.9" r="2.3"/><circle cx="217.3" cy="375.5" r="2.3"/><circle cx="217.6" cy="389.8" r="2.3"/><circle cx="217.8" cy="369.4" r="2.3"/><circle cx="218.1" cy="380.3" r="2.3"/><circle cx="218.4" cy="394.3" r="2.3"/><circle cx="218.9" cy="384.0" r="2.3"/><circle cx="219.5" cy="374.5" r="2.3"/><circle cx="219.5" cy="371.6" r="2.3"/><circle cx="219.6" cy="395.2" r="2.3"/><circle cx="220.4" cy="392.9" r="2.3"/><circle cx="220.1" cy="399.2" r="2.3"/><circle cx="220.8" cy="378.1" r="2.3"/><circle cx="221.0" cy="404.6" r="2.3"/><circle cx="221.7" cy="400.5" r="2.3"/><circle cx="221.9" cy="398.9" r="2.3"/><circle cx="222.3" cy="373.6" r="2.3"/><circle cx="222.9" cy="379.2" r="2.3"/><circle cx="223.5" cy="406.1" r="2.3"/><circle cx="223.6" cy="377.3" r="2.3"/><circle cx="224.4" cy="387.9" r="2.3"/><circle cx="224.6" cy="391.7" r="2.3"/><circle cx="225.0" cy="388.0" r="2.3"/><circle cx="225.8" cy="401.1" r="2.3"/><circle cx="226.1" cy="402.1" r="2.3"/><circle cx="226.6" cy="382.5" r="2.3"/><circle cx="227.2" cy="381.6" r="2.3"/><circle cx="228.0" cy="395.9" r="2.3"/><circle cx="228.7" cy="383.0" r="2.3"/><circle cx="229.8" cy="381.6" r="2.3"/><circle cx="230.3" cy="406.4" r="2.3"/><circle cx="231.2" cy="390.6" r="2.3"/><circle cx="231.7" cy="389.3" r="2.3"/><circle cx="232.7" cy="384.7" r="2.3"/><circle cx="233.6" cy="398.9" r="2.3"/><circle cx="234.7" cy="384.8" r="2.3"/><circle cx="235.7" cy="403.3" r="2.3"/><circle cx="236.8" cy="398.3" r="2.3"/><circle cx="238.2" cy="397.6" r="2.3"/><circle cx="239.7" cy="396.6" r="2.3"/><circle cx="242.0" cy="390.2" r="2.3"/><circle cx="243.6" cy="410.0" r="2.3"/><circle cx="246.4" cy="388.3" r="2.3"/><circle cx="249.9" cy="391.8" r="2.3"/><circle cx="279.6" cy="423.4" r="2.3"/><circle cx="222.5" cy="406.5" r="2.3"/><circle cx="225.5" cy="402.3" r="2.3"/><circle cx="230.3" cy="400.0" r="2.3"/><circle cx="232.7" cy="402.3" r="2.3"/><circle cx="235.1" cy="404.7" r="2.3"/><circle cx="230.3" cy="407.1" r="2.3"/><circle cx="231.5" cy="413.1" r="2.3"/><circle cx="235.1" cy="416.1" r="2.3"/><circle cx="236.3" cy="410.1" r="2.3"/><circle cx="242.3" cy="397.5" r="2.3"/><circle cx="244.7" cy="392.8" r="2.3"/><circle cx="247.1" cy="396.3" r="2.3"/><circle cx="245.9" cy="401.1" r="2.3"/><circle cx="239.9" cy="394.0" r="2.3"/><circle cx="237.5" cy="390.4" r="2.3"/><circle cx="225.5" cy="388.0" r="2.3"/><circle cx="229.1" cy="382.0" r="2.3"/><circle cx="235.1" cy="383.2" r="2.3"/><circle cx="232.7" cy="385.6" r="2.3"/><circle cx="238.7" cy="391.6" r="2.3"/><circle cx="257.8" cy="408.3" r="2.3"/><circle cx="256.6" cy="417.9" r="2.3"/><circle cx="253.1" cy="414.3" r="2.3"/><circle cx="247.1" cy="415.5" r="2.3"/><circle cx="241.7" cy="376.0" r="2.3"/><circle cx="236.3" cy="373.6" r="2.3"/><circle cx="232.7" cy="372.4" r="2.3"/><circle cx="256.6" cy="382.0" r="2.3"/><circle cx="219.5" cy="400.0" r="2.3"/><circle cx="215.9" cy="400.0" r="2.3"/><circle cx="209.9" cy="403.5" r="2.3"/><circle cx="211.7" cy="405.9" r="2.3"/><circle cx="134.2" cy="322.4" r="2.3"/><circle cx="131.2" cy="327.8" r="2.3"/><circle cx="151.0" cy="326.0" r="2.3"/><circle cx="159.9" cy="325.4" r="2.3"/><circle cx="163.5" cy="329.0" r="2.3"/><circle cx="174.3" cy="324.8" r="2.3"/><circle cx="177.9" cy="327.2" r="2.3"/><circle cx="158.1" cy="332.0" r="2.3"/><circle cx="159.9" cy="335.0" r="2.3"/><circle cx="152.2" cy="334.4" r="2.3"/><circle cx="154.6" cy="336.2" r="2.3"/><circle cx="153.4" cy="339.8" r="2.3"/><circle cx="152.2" cy="341.6" r="2.3"/><circle cx="142.6" cy="336.2" r="2.3"/><circle cx="141.4" cy="341.6" r="2.3"/><circle cx="132.4" cy="335.6" r="2.3"/><circle cx="186.3" cy="335.0" r="2.3"/><circle cx="191.1" cy="332.0" r="2.3"/><circle cx="191.7" cy="339.2" r="2.3"/><circle cx="197.7" cy="345.7" r="2.3"/><circle cx="206.6" cy="350.5" r="2.3"/><circle cx="195.9" cy="351.1" r="2.3"/><circle cx="189.3" cy="343.4" r="2.3"/><circle cx="185.1" cy="345.1" r="2.3"/><circle cx="158.7" cy="344.0" r="2.3"/><circle cx="161.1" cy="342.8" r="2.3"/><circle cx="164.7" cy="341.6" r="2.3"/><circle cx="165.9" cy="345.1" r="2.3"/><circle cx="151.0" cy="345.1" r="2.3"/><circle cx="149.2" cy="347.5" r="2.3"/><circle cx="152.2" cy="350.5" r="2.3"/><circle cx="155.7" cy="352.9" r="2.3"/><circle cx="131.2" cy="347.0" r="2.3"/><circle cx="138.4" cy="352.3" r="2.3"/><circle cx="149.2" cy="355.3" r="2.3"/><circle cx="146.8" cy="359.5" r="2.3"/><circle cx="159.9" cy="359.5" r="2.3"/><circle cx="158.7" cy="361.3" r="2.3"/><circle cx="138.4" cy="364.3" r="2.3"/><circle cx="133.6" cy="369.1" r="2.3"/><circle cx="152.2" cy="370.9" r="2.3"/><circle cx="155.7" cy="369.1" r="2.3"/><circle cx="158.7" cy="366.7" r="2.3"/><circle cx="145.6" cy="375.1" r="2.3"/><circle cx="131.2" cy="378.7" r="2.3"/><circle cx="38.2" cy="318.1" r="2.3"/><circle cx="100.1" cy="318.5" r="2.3"/><circle cx="143.2" cy="306.0" r="2.3"/><circle cx="138.4" cy="312.6" r="2.3"/><circle cx="170.7" cy="311.3" r="2.3"/><circle cx="163.2" cy="313.7" r="2.3"/><circle cx="161.5" cy="316.8" r="2.3"/><circle cx="162.6" cy="319.6" r="2.3"/><circle cx="129.0" cy="317.0" r="2.3"/><circle cx="122.6" cy="330.2" r="2.3"/><circle cx="125.7" cy="332.8" r="2.3"/><circle cx="118.0" cy="336.8" r="2.3"/><circle cx="128.5" cy="340.5" r="2.3"/><circle cx="127.4" cy="339.4" r="2.3"/><circle cx="142.8" cy="339.4" r="2.3"/><circle cx="158.8" cy="333.9" r="2.3"/><circle cx="129.6" cy="348.2" r="2.3"/><circle cx="141.3" cy="346.0" r="2.3"/><circle cx="148.3" cy="382.2" r="2.3"/><circle cx="156.0" cy="382.2" r="2.3"/><circle cx="160.4" cy="380.7" r="2.3"/><circle cx="165.9" cy="379.6" r="2.3"/><circle cx="154.9" cy="341.6" r="2.3"/><circle cx="151.6" cy="339.4" r="2.3"/><circle cx="172.4" cy="392.1" r="2.3"/><circle cx="179.0" cy="397.6" r="2.3"/><circle cx="183.4" cy="397.1" r="2.3"/><circle cx="217.7" cy="367.2" r="2.3"/><circle cx="222.1" cy="368.3" r="2.3"/><circle cx="227.6" cy="370.5" r="2.3"/><circle cx="240.7" cy="368.7" r="2.3"/><circle cx="261.6" cy="376.0" r="2.3"/><circle cx="266.0" cy="382.1" r="2.3"/><circle cx="260.5" cy="396.4" r="2.3"/><circle cx="257.2" cy="402.3" r="2.3"/><circle cx="260.5" cy="403.4" r="2.3"/><circle cx="246.2" cy="392.4" r="2.3"/><circle cx="240.7" cy="395.7" r="2.3"/><circle cx="244.0" cy="397.9" r="2.3"/><circle cx="233.1" cy="390.3" r="2.3"/><circle cx="230.9" cy="404.5" r="2.3"/><circle cx="235.3" cy="402.3" r="2.3"/><circle cx="234.2" cy="410.0" r="2.3"/><circle cx="262.7" cy="412.2" r="2.3"/><circle cx="267.1" cy="410.7" r="2.3"/><circle cx="196.8" cy="411.1" r="2.3"/><circle cx="203.4" cy="411.1" r="2.3"/><circle cx="211.1" cy="404.5" r="2.3"/><circle cx="204.1" cy="424.7" r="2.3"/><circle cx="227.1" cy="425.4" r="2.3"/><circle cx="248.0" cy="424.9" r="2.3"/><circle cx="171.6" cy="396.8" r="2.3"/><circle cx="169.4" cy="385.9" r="2.3"/><circle cx="176.0" cy="385.9" r="2.3"/><circle cx="197.5" cy="399.0" r="2.3"/><circle cx="222.1" cy="395.7" r="2.3"/><circle cx="286.4" cy="442.7" r="2.3"/><circle cx="301.4" cy="439.8" r="2.3"/><circle cx="278.1" cy="422.3" r="2.3"/><circle cx="224.5" cy="443.6" r="2.3"/><circle cx="233.3" cy="442.0" r="2.3"/><circle cx="210.3" cy="436.6" r="2.3"/><circle cx="246.3" cy="298.4" r="2.3"/><circle cx="224.0" cy="371.9" r="2.3"/></g>
<polyline points="38.2,318.1 40.3,318.3 42.3,318.6 44.4,318.8 46.5,319.1 48.5,319.3 50.6,319.6 52.6,319.8 54.7,320.1 56.8,320.3 58.8,320.6 60.9,320.8 63.0,321.1 65.0,321.3 67.1,321.6 69.2,321.8 71.2,322.0 73.3,322.3 75.3,322.5 77.4,322.8 79.5,323.0 81.5,323.3 83.6,323.5 85.7,323.8 87.7,324.0 89.8,324.3 91.8,324.5 93.9,324.8 96.0,325.0 98.0,325.3 100.1,325.5 102.2,326.4 104.4,327.3 106.5,328.2 108.6,329.1 110.8,330.0 112.9,330.9 115.0,331.8 117.2,332.6 119.3,333.5 121.5,334.4 123.6,335.3 125.7,336.2 127.9,337.1 130.0,338.0 132.0,339.1 134.0,340.1 136.0,341.2 138.0,342.3 140.1,343.4 142.1,344.4 144.1,345.5 146.1,346.6 148.1,347.6 150.1,348.7 152.1,349.8 154.1,350.8 156.1,351.9 158.1,353.0 160.1,354.0 162.2,355.1 164.2,356.2 166.2,357.3 168.2,358.3 170.2,359.4 172.6,360.7 175.1,362.0 177.6,363.3 180.0,364.6 182.0,365.7 184.1,366.8 186.1,368.0 188.2,369.1 190.2,370.2 192.3,371.3 194.3,372.5 196.4,373.6 198.4,374.7 200.5,375.8 202.5,377.0 204.6,378.1 206.6,379.2 208.8,380.4 210.9,381.6 213.1,382.7 215.2,383.9 217.4,385.1 219.6,386.2 221.7,387.4 223.9,388.6 226.1,389.8 228.3,391.0 230.5,392.1 232.7,393.3 234.9,394.5 237.0,395.7 239.2,396.9 241.4,398.0 243.6,399.2 245.8,400.4 247.8,401.4 249.8,402.4 251.8,403.5 253.8,404.5 255.8,405.5 257.8,406.5 259.8,407.5 261.8,408.5 263.8,409.6 265.8,410.6 267.8,411.6 269.9,412.5 272.0,413.4 274.1,414.2 276.2,415.1 278.3,416.0 280.4,416.9 282.5,417.7 284.6,418.6 286.7,419.5 288.8,420.4 290.9,421.2 293.0,422.1 295.1,423.0 297.2,423.9 299.3,424.7 301.4,425.6" fill="none" stroke="#9e2a55" stroke-width="1.1"/>
<line x1="32.6" y1="264.9" x2="32.6" y2="450.2" stroke="#3a3a3a" stroke-width="1.2"/>
<line x1="32.0" y1="449.6" x2="334.1" y2="449.6" stroke="#3a3a3a" stroke-width="1.2"/>
<line x1="29.0" y1="270.5" x2="32.6" y2="270.5" stroke="#3a3a3a" stroke-width="1.1"/>
<text transform="translate(24.0,270.5) rotate(-90)" text-anchor="middle" font-size="8.65">.15</text>
<line x1="29.0" y1="304.8" x2="32.6" y2="304.8" stroke="#3a3a3a" stroke-width="1.1"/>
<text transform="translate(24.0,304.8) rotate(-90)" text-anchor="middle" font-size="8.65">.1</text>
<line x1="29.0" y1="339.0" x2="32.6" y2="339.0" stroke="#3a3a3a" stroke-width="1.1"/>
<text transform="translate(24.0,339.0) rotate(-90)" text-anchor="middle" font-size="8.65">.05</text>
<line x1="29.0" y1="373.3" x2="32.6" y2="373.3" stroke="#3a3a3a" stroke-width="1.1"/>
<text transform="translate(24.0,373.3) rotate(-90)" text-anchor="middle" font-size="8.65">0</text>
<line x1="29.0" y1="407.6" x2="32.6" y2="407.6" stroke="#3a3a3a" stroke-width="1.1"/>
<text transform="translate(24.0,407.6) rotate(-90)" text-anchor="middle" font-size="8.65">-.05</text>
<line x1="29.0" y1="441.8" x2="32.6" y2="441.8" stroke="#3a3a3a" stroke-width="1.1"/>
<text transform="translate(24.0,441.8) rotate(-90)" text-anchor="middle" font-size="8.65">-.1</text>
<line x1="46.8" y1="449.6" x2="46.8" y2="453.2" stroke="#3a3a3a" stroke-width="1.1"/>
<text x="46.8" y="468.3" text-anchor="middle" font-size="8.65">0</text>
<line x1="117.2" y1="449.6" x2="117.2" y2="453.2" stroke="#3a3a3a" stroke-width="1.1"/>
<text x="117.2" y="468.3" text-anchor="middle" font-size="8.65">1</text>
<line x1="187.6" y1="449.6" x2="187.6" y2="453.2" stroke="#3a3a3a" stroke-width="1.1"/>
<text x="187.6" y="468.3" text-anchor="middle" font-size="8.65">2</text>
<line x1="258.0" y1="449.6" x2="258.0" y2="453.2" stroke="#3a3a3a" stroke-width="1.1"/>
<text x="258.0" y="468.3" text-anchor="middle" font-size="8.65">3</text>
<line x1="328.4" y1="449.6" x2="328.4" y2="453.2" stroke="#3a3a3a" stroke-width="1.1"/>
<text x="328.4" y="468.3" text-anchor="middle" font-size="8.65">4</text>
<text transform="translate(8.6,357.2) rotate(-90)" text-anchor="middle" font-size="8.65">Per capita GDP Growth</text>
<text x="183.4" y="477.0" text-anchor="middle" font-size="8.65">Government size (logs)</text>
<rect x="62.3" y="484.4" width="241.6" height="16.0" fill="#fff" stroke="#2a2a2a" stroke-width="1.1"/>
<rect x="66.1" y="488.0" width="32.7" height="8.6" fill="#b4b4b4"/>
<text x="103.8" y="495.4" text-anchor="start" font-size="8.647799999999998">95% CI</text>
<circle cx="147.7" cy="491.9" r="2.2" fill="#15478b"/>
<text x="154.6" y="495.4" text-anchor="start" font-size="8.647799999999998">linear fit</text>
<line x1="197.7" y1="492.1" x2="230.4" y2="492.1" stroke="#9e2a55" stroke-width="1.1"/>
<text x="235.8" y="495.4" text-anchor="start" font-size="8.647799999999998">B-spline smooth</text>
<line x1="378.5" y1="280.1" x2="685.0" y2="280.1" stroke="#eaf6f1" stroke-width="1.3"/>
<line x1="378.5" y1="312.6" x2="685.0" y2="312.6" stroke="#eaf6f1" stroke-width="1.3"/>
<line x1="378.5" y1="345.2" x2="685.0" y2="345.2" stroke="#eaf6f1" stroke-width="1.3"/>
<line x1="378.5" y1="377.8" x2="685.0" y2="377.8" stroke="#eaf6f1" stroke-width="1.3"/>
<line x1="378.5" y1="410.3" x2="685.0" y2="410.3" stroke="#eaf6f1" stroke-width="1.3"/>
<line x1="378.5" y1="442.9" x2="685.0" y2="442.9" stroke="#eaf6f1" stroke-width="1.3"/>
<polygon points="427.7,369.9 429.4,370.6 431.8,371.4 434.5,372.5 437.6,373.7 440.8,374.9 444.1,375.5 447.2,375.9 450.0,376.2 452.6,376.4 455.2,376.6 457.7,376.7 460.1,376.5 462.6,376.2 465.1,375.8 467.5,375.4 470.0,374.9 472.5,374.4 475.0,373.8 477.4,372.9 479.9,372.0 482.4,371.0 484.9,369.9 487.4,368.9 490.0,367.8 492.6,366.7 495.3,365.5 498.1,364.3 500.8,363.0 503.6,361.6 506.4,360.3 509.1,359.0 511.9,357.7 514.6,356.3 517.4,355.0 520.1,353.7 522.8,352.3 525.6,351.0 528.3,349.6 531.1,348.3 533.8,347.1 536.5,345.8 539.3,344.6 542.0,343.4 544.8,342.2 547.5,341.1 550.2,339.9 553.0,338.8 555.7,337.8 558.4,336.8 561.2,335.8 563.9,334.8 566.7,333.9 569.4,333.0 572.1,332.2 574.9,331.3 577.6,330.5 580.3,329.7 583.1,328.9 585.8,328.2 588.5,327.4 591.3,326.7 594.0,326.1 596.8,325.4 599.5,324.8 602.3,324.1 605.2,323.4 608.1,322.7 611.0,322.0 613.8,321.2 616.5,320.4 619.1,319.6 621.4,318.9 623.5,318.3 625.6,317.7 627.5,317.3 629.3,316.9 630.9,316.5 632.4,316.3 633.5,316.0 634.5,315.8 634.5,327.2 633.5,327.1 632.4,327.0 630.9,326.9 629.3,326.8 627.5,326.7 625.6,326.6 623.5,326.6 621.4,326.6 619.1,326.6 616.5,326.7 613.8,326.8 611.0,327.0 608.1,327.4 605.2,327.8 602.3,328.3 599.5,328.8 596.8,329.5 594.0,330.1 591.3,330.9 588.5,331.6 585.8,332.4 583.1,333.2 580.3,334.0 577.6,334.8 574.9,335.7 572.1,336.6 569.4,337.5 566.7,338.4 563.9,339.4 561.2,340.4 558.4,341.4 555.7,342.4 553.0,343.5 550.2,344.7 547.5,345.8 544.8,347.0 542.0,348.3 539.3,349.5 536.5,350.8 533.8,352.1 531.1,353.4 528.3,354.7 525.6,356.1 522.8,357.5 520.1,358.9 517.4,360.2 514.6,361.6 511.9,363.0 509.1,364.3 506.4,365.7 503.6,367.1 500.8,368.5 498.1,369.8 495.3,371.2 492.6,372.5 490.0,373.7 487.4,374.9 484.9,376.1 482.4,377.2 479.9,378.3 477.4,379.3 475.0,380.3 472.5,381.5 470.0,382.7 467.5,383.8 465.1,384.8 462.6,385.8 460.1,386.7 457.7,387.6 455.2,388.6 452.6,389.7 450.0,390.8 447.2,391.9 444.1,393.1 440.8,394.3 437.6,395.7 434.5,397.1 431.8,398.3 429.4,399.3 427.7,400.1" fill="#b4b4b4"/>
<g fill="#15478b"><circle cx="479.1" cy="369.6" r="2.3"/><circle cx="480.3" cy="373.7" r="2.3"/><circle cx="481.4" cy="368.9" r="2.3"/><circle cx="482.2" cy="369.3" r="2.3"/><circle cx="483.7" cy="371.0" r="2.3"/><circle cx="484.6" cy="361.0" r="2.3"/><circle cx="486.0" cy="362.9" r="2.3"/><circle cx="486.6" cy="370.6" r="2.3"/><circle cx="487.8" cy="359.4" r="2.3"/><circle cx="488.8" cy="367.1" r="2.3"/><circle cx="489.6" cy="366.4" r="2.3"/><circle cx="490.6" cy="359.9" r="2.3"/><circle cx="491.5" cy="356.8" r="2.3"/><circle cx="493.0" cy="360.1" r="2.3"/><circle cx="493.5" cy="360.6" r="2.3"/><circle cx="494.3" cy="368.2" r="2.3"/><circle cx="495.3" cy="363.4" r="2.3"/><circle cx="495.6" cy="351.7" r="2.3"/><circle cx="496.9" cy="360.3" r="2.3"/><circle cx="497.1" cy="358.9" r="2.3"/><circle cx="498.1" cy="365.5" r="2.3"/><circle cx="498.8" cy="352.0" r="2.3"/><circle cx="499.6" cy="349.3" r="2.3"/><circle cx="500.4" cy="350.8" r="2.3"/><circle cx="501.2" cy="362.3" r="2.3"/><circle cx="502.3" cy="357.6" r="2.3"/><circle cx="502.7" cy="357.2" r="2.3"/><circle cx="503.8" cy="350.4" r="2.3"/><circle cx="504.2" cy="353.0" r="2.3"/><circle cx="505.4" cy="366.7" r="2.3"/><circle cx="506.4" cy="358.7" r="2.3"/><circle cx="506.5" cy="361.0" r="2.3"/><circle cx="508.0" cy="355.6" r="2.3"/><circle cx="508.7" cy="358.1" r="2.3"/><circle cx="509.5" cy="352.3" r="2.3"/><circle cx="510.2" cy="350.7" r="2.3"/><circle cx="510.8" cy="355.9" r="2.3"/><circle cx="511.6" cy="354.1" r="2.3"/><circle cx="512.0" cy="352.5" r="2.3"/><circle cx="513.5" cy="357.7" r="2.3"/><circle cx="513.6" cy="365.1" r="2.3"/><circle cx="514.7" cy="350.6" r="2.3"/><circle cx="515.0" cy="348.3" r="2.3"/><circle cx="516.1" cy="349.8" r="2.3"/><circle cx="516.9" cy="350.4" r="2.3"/><circle cx="517.1" cy="357.5" r="2.3"/><circle cx="518.5" cy="350.5" r="2.3"/><circle cx="518.9" cy="352.1" r="2.3"/><circle cx="519.3" cy="357.0" r="2.3"/><circle cx="520.0" cy="360.3" r="2.3"/><circle cx="520.8" cy="361.8" r="2.3"/><circle cx="521.2" cy="351.8" r="2.3"/><circle cx="522.0" cy="355.2" r="2.3"/><circle cx="522.4" cy="350.1" r="2.3"/><circle cx="523.5" cy="356.2" r="2.3"/><circle cx="523.6" cy="361.2" r="2.3"/><circle cx="524.1" cy="345.5" r="2.3"/><circle cx="524.6" cy="357.4" r="2.3"/><circle cx="525.6" cy="348.1" r="2.3"/><circle cx="526.2" cy="353.9" r="2.3"/><circle cx="526.7" cy="358.7" r="2.3"/><circle cx="527.1" cy="350.0" r="2.3"/><circle cx="527.7" cy="345.2" r="2.3"/><circle cx="528.9" cy="346.1" r="2.3"/><circle cx="529.3" cy="346.6" r="2.3"/><circle cx="529.8" cy="355.1" r="2.3"/><circle cx="530.2" cy="359.6" r="2.3"/><circle cx="530.5" cy="350.2" r="2.3"/><circle cx="531.6" cy="351.5" r="2.3"/><circle cx="532.5" cy="358.1" r="2.3"/><circle cx="532.5" cy="356.2" r="2.3"/><circle cx="533.5" cy="353.2" r="2.3"/><circle cx="533.5" cy="356.0" r="2.3"/><circle cx="534.4" cy="359.8" r="2.3"/><circle cx="535.0" cy="344.9" r="2.3"/><circle cx="535.4" cy="348.0" r="2.3"/><circle cx="535.6" cy="349.7" r="2.3"/><circle cx="536.3" cy="337.9" r="2.3"/><circle cx="536.7" cy="353.3" r="2.3"/><circle cx="537.1" cy="365.0" r="2.3"/><circle cx="537.6" cy="357.1" r="2.3"/><circle cx="538.3" cy="341.8" r="2.3"/><circle cx="539.0" cy="363.5" r="2.3"/><circle cx="539.5" cy="361.8" r="2.3"/><circle cx="539.7" cy="351.5" r="2.3"/><circle cx="540.2" cy="365.1" r="2.3"/><circle cx="541.0" cy="361.0" r="2.3"/><circle cx="540.9" cy="365.3" r="2.3"/><circle cx="541.3" cy="361.6" r="2.3"/><circle cx="541.7" cy="364.9" r="2.3"/><circle cx="542.3" cy="360.1" r="2.3"/><circle cx="542.7" cy="356.8" r="2.3"/><circle cx="543.5" cy="349.2" r="2.3"/><circle cx="543.1" cy="339.2" r="2.3"/><circle cx="543.9" cy="350.5" r="2.3"/><circle cx="544.2" cy="351.5" r="2.3"/><circle cx="544.6" cy="342.5" r="2.3"/><circle cx="544.6" cy="343.5" r="2.3"/><circle cx="545.4" cy="342.8" r="2.3"/><circle cx="545.5" cy="361.1" r="2.3"/><circle cx="546.3" cy="334.1" r="2.3"/><circle cx="546.3" cy="358.1" r="2.3"/><circle cx="546.7" cy="341.0" r="2.3"/><circle cx="547.4" cy="353.1" r="2.3"/><circle cx="547.9" cy="338.8" r="2.3"/><circle cx="547.7" cy="354.9" r="2.3"/><circle cx="548.2" cy="351.9" r="2.3"/><circle cx="548.7" cy="356.6" r="2.3"/><circle cx="548.7" cy="348.2" r="2.3"/><circle cx="549.4" cy="341.7" r="2.3"/><circle cx="549.6" cy="352.2" r="2.3"/><circle cx="549.6" cy="359.6" r="2.3"/><circle cx="550.1" cy="361.0" r="2.3"/><circle cx="550.8" cy="335.3" r="2.3"/><circle cx="550.8" cy="353.3" r="2.3"/><circle cx="551.2" cy="351.5" r="2.3"/><circle cx="551.2" cy="360.2" r="2.3"/><circle cx="551.6" cy="356.9" r="2.3"/><circle cx="552.0" cy="346.6" r="2.3"/><circle cx="552.0" cy="333.4" r="2.3"/><circle cx="552.8" cy="360.4" r="2.3"/><circle cx="552.7" cy="342.7" r="2.3"/><circle cx="553.2" cy="349.7" r="2.3"/><circle cx="553.7" cy="340.5" r="2.3"/><circle cx="553.9" cy="347.7" r="2.3"/><circle cx="554.2" cy="356.9" r="2.3"/><circle cx="554.5" cy="343.2" r="2.3"/><circle cx="554.5" cy="338.5" r="2.3"/><circle cx="555.4" cy="333.5" r="2.3"/><circle cx="555.1" cy="355.6" r="2.3"/><circle cx="555.6" cy="357.5" r="2.3"/><circle cx="555.6" cy="341.0" r="2.3"/><circle cx="556.3" cy="331.0" r="2.3"/><circle cx="556.9" cy="342.5" r="2.3"/><circle cx="556.9" cy="354.2" r="2.3"/><circle cx="557.0" cy="356.1" r="2.3"/><circle cx="557.4" cy="335.2" r="2.3"/><circle cx="557.8" cy="333.7" r="2.3"/><circle cx="558.3" cy="353.2" r="2.3"/><circle cx="558.2" cy="345.3" r="2.3"/><circle cx="558.6" cy="357.1" r="2.3"/><circle cx="558.8" cy="355.9" r="2.3"/><circle cx="559.0" cy="352.7" r="2.3"/><circle cx="559.5" cy="345.7" r="2.3"/><circle cx="559.6" cy="358.2" r="2.3"/><circle cx="560.1" cy="342.4" r="2.3"/><circle cx="560.2" cy="339.2" r="2.3"/><circle cx="560.5" cy="349.3" r="2.3"/><circle cx="561.0" cy="338.1" r="2.3"/><circle cx="561.4" cy="337.1" r="2.3"/><circle cx="561.6" cy="341.2" r="2.3"/><circle cx="562.0" cy="353.2" r="2.3"/><circle cx="562.3" cy="325.4" r="2.3"/><circle cx="562.0" cy="338.1" r="2.3"/><circle cx="562.6" cy="327.8" r="2.3"/><circle cx="563.3" cy="352.7" r="2.3"/><circle cx="563.5" cy="357.7" r="2.3"/><circle cx="563.7" cy="329.9" r="2.3"/><circle cx="564.0" cy="339.0" r="2.3"/><circle cx="564.2" cy="353.8" r="2.3"/><circle cx="564.3" cy="358.8" r="2.3"/><circle cx="564.9" cy="360.7" r="2.3"/><circle cx="565.3" cy="348.5" r="2.3"/><circle cx="565.2" cy="331.3" r="2.3"/><circle cx="565.6" cy="328.1" r="2.3"/><circle cx="566.0" cy="326.1" r="2.3"/><circle cx="566.1" cy="345.6" r="2.3"/><circle cx="566.1" cy="329.4" r="2.3"/><circle cx="566.6" cy="329.8" r="2.3"/><circle cx="566.5" cy="349.5" r="2.3"/><circle cx="567.3" cy="332.4" r="2.3"/><circle cx="567.4" cy="342.2" r="2.3"/><circle cx="567.6" cy="361.3" r="2.3"/><circle cx="567.6" cy="351.7" r="2.3"/><circle cx="568.4" cy="320.7" r="2.3"/><circle cx="568.8" cy="355.1" r="2.3"/><circle cx="568.7" cy="328.7" r="2.3"/><circle cx="569.0" cy="354.1" r="2.3"/><circle cx="569.2" cy="347.1" r="2.3"/><circle cx="569.8" cy="361.5" r="2.3"/><circle cx="569.8" cy="354.9" r="2.3"/><circle cx="570.2" cy="322.9" r="2.3"/><circle cx="570.3" cy="317.4" r="2.3"/><circle cx="571.0" cy="330.7" r="2.3"/><circle cx="570.7" cy="329.3" r="2.3"/><circle cx="571.2" cy="339.0" r="2.3"/><circle cx="571.4" cy="316.9" r="2.3"/><circle cx="572.0" cy="334.7" r="2.3"/><circle cx="571.7" cy="356.3" r="2.3"/><circle cx="572.2" cy="332.1" r="2.3"/><circle cx="572.2" cy="326.0" r="2.3"/><circle cx="572.9" cy="327.7" r="2.3"/><circle cx="572.8" cy="339.6" r="2.3"/><circle cx="573.4" cy="346.3" r="2.3"/><circle cx="573.2" cy="359.1" r="2.3"/><circle cx="573.9" cy="334.1" r="2.3"/><circle cx="573.7" cy="351.1" r="2.3"/><circle cx="574.2" cy="346.2" r="2.3"/><circle cx="574.2" cy="330.2" r="2.3"/><circle cx="574.5" cy="345.2" r="2.3"/><circle cx="574.6" cy="335.4" r="2.3"/><circle cx="574.9" cy="349.4" r="2.3"/><circle cx="575.5" cy="342.2" r="2.3"/><circle cx="575.1" cy="351.7" r="2.3"/><circle cx="575.5" cy="331.8" r="2.3"/><circle cx="576.0" cy="349.4" r="2.3"/><circle cx="576.3" cy="350.1" r="2.3"/><circle cx="576.1" cy="315.4" r="2.3"/><circle cx="576.5" cy="328.0" r="2.3"/><circle cx="576.8" cy="323.3" r="2.3"/><circle cx="577.4" cy="319.2" r="2.3"/><circle cx="577.0" cy="358.6" r="2.3"/><circle cx="577.5" cy="323.8" r="2.3"/><circle cx="578.2" cy="349.5" r="2.3"/><circle cx="578.2" cy="337.3" r="2.3"/><circle cx="578.9" cy="339.0" r="2.3"/><circle cx="578.9" cy="315.3" r="2.3"/><circle cx="579.4" cy="315.9" r="2.3"/><circle cx="579.0" cy="331.5" r="2.3"/><circle cx="579.8" cy="315.0" r="2.3"/><circle cx="579.7" cy="316.0" r="2.3"/><circle cx="580.4" cy="346.5" r="2.3"/><circle cx="580.4" cy="327.2" r="2.3"/><circle cx="580.6" cy="353.1" r="2.3"/><circle cx="580.7" cy="348.0" r="2.3"/><circle cx="581.3" cy="344.3" r="2.3"/><circle cx="581.3" cy="344.2" r="2.3"/><circle cx="581.7" cy="325.1" r="2.3"/><circle cx="581.7" cy="312.2" r="2.3"/><circle cx="582.3" cy="327.3" r="2.3"/><circle cx="582.6" cy="343.8" r="2.3"/><circle cx="582.8" cy="326.5" r="2.3"/><circle cx="583.5" cy="346.7" r="2.3"/><circle cx="583.0" cy="327.8" r="2.3"/><circle cx="584.0" cy="333.2" r="2.3"/><circle cx="584.0" cy="317.1" r="2.3"/><circle cx="584.0" cy="319.9" r="2.3"/><circle cx="585.0" cy="341.6" r="2.3"/><circle cx="584.8" cy="328.3" r="2.3"/><circle cx="585.2" cy="319.5" r="2.3"/><circle cx="585.2" cy="319.2" r="2.3"/><circle cx="585.9" cy="333.4" r="2.3"/><circle cx="585.7" cy="344.2" r="2.3"/><circle cx="586.2" cy="344.6" r="2.3"/><circle cx="586.9" cy="336.0" r="2.3"/><circle cx="586.8" cy="336.2" r="2.3"/><circle cx="587.5" cy="349.6" r="2.3"/><circle cx="587.3" cy="347.1" r="2.3"/><circle cx="587.9" cy="335.9" r="2.3"/><circle cx="588.1" cy="343.9" r="2.3"/><circle cx="588.2" cy="325.6" r="2.3"/><circle cx="589.0" cy="321.5" r="2.3"/><circle cx="588.8" cy="321.9" r="2.3"/><circle cx="589.4" cy="321.5" r="2.3"/><circle cx="589.6" cy="330.1" r="2.3"/><circle cx="589.7" cy="338.7" r="2.3"/><circle cx="590.1" cy="323.6" r="2.3"/><circle cx="590.6" cy="331.7" r="2.3"/><circle cx="590.6" cy="332.0" r="2.3"/><circle cx="591.4" cy="335.8" r="2.3"/><circle cx="591.6" cy="329.1" r="2.3"/><circle cx="591.5" cy="328.8" r="2.3"/><circle cx="592.4" cy="311.6" r="2.3"/><circle cx="592.1" cy="323.9" r="2.3"/><circle cx="592.8" cy="318.7" r="2.3"/><circle cx="593.1" cy="332.7" r="2.3"/><circle cx="593.3" cy="319.0" r="2.3"/><circle cx="593.6" cy="328.6" r="2.3"/><circle cx="594.4" cy="319.7" r="2.3"/><circle cx="594.3" cy="329.6" r="2.3"/><circle cx="594.6" cy="325.9" r="2.3"/><circle cx="595.4" cy="316.6" r="2.3"/><circle cx="595.3" cy="327.7" r="2.3"/><circle cx="595.6" cy="325.6" r="2.3"/><circle cx="596.1" cy="325.1" r="2.3"/><circle cx="596.5" cy="329.7" r="2.3"/><circle cx="596.9" cy="338.7" r="2.3"/><circle cx="597.5" cy="320.3" r="2.3"/><circle cx="597.9" cy="323.2" r="2.3"/><circle cx="597.9" cy="326.5" r="2.3"/><circle cx="598.4" cy="324.3" r="2.3"/><circle cx="599.0" cy="326.0" r="2.3"/><circle cx="598.9" cy="317.7" r="2.3"/><circle cx="599.4" cy="318.4" r="2.3"/><circle cx="599.7" cy="323.1" r="2.3"/><circle cx="599.8" cy="328.9" r="2.3"/><circle cx="600.1" cy="335.7" r="2.3"/><circle cx="600.5" cy="325.6" r="2.3"/><circle cx="600.6" cy="315.0" r="2.3"/><circle cx="601.1" cy="341.7" r="2.3"/><circle cx="601.8" cy="335.5" r="2.3"/><circle cx="601.9" cy="315.1" r="2.3"/><circle cx="602.5" cy="315.5" r="2.3"/><circle cx="602.6" cy="318.0" r="2.3"/><circle cx="602.8" cy="327.6" r="2.3"/><circle cx="603.3" cy="317.2" r="2.3"/><circle cx="603.7" cy="320.2" r="2.3"/><circle cx="604.0" cy="327.1" r="2.3"/><circle cx="604.3" cy="323.5" r="2.3"/><circle cx="604.6" cy="313.7" r="2.3"/><circle cx="604.6" cy="331.4" r="2.3"/><circle cx="605.1" cy="324.0" r="2.3"/><circle cx="605.7" cy="314.0" r="2.3"/><circle cx="605.7" cy="324.1" r="2.3"/><circle cx="606.5" cy="332.0" r="2.3"/><circle cx="606.7" cy="318.2" r="2.3"/><circle cx="606.6" cy="319.9" r="2.3"/><circle cx="607.3" cy="338.2" r="2.3"/><circle cx="607.2" cy="326.0" r="2.3"/><circle cx="607.5" cy="311.9" r="2.3"/><circle cx="608.3" cy="312.9" r="2.3"/><circle cx="608.7" cy="335.5" r="2.3"/><circle cx="608.7" cy="336.7" r="2.3"/><circle cx="609.2" cy="325.8" r="2.3"/><circle cx="609.8" cy="315.7" r="2.3"/><circle cx="609.9" cy="319.9" r="2.3"/><circle cx="610.5" cy="332.9" r="2.3"/><circle cx="610.9" cy="315.1" r="2.3"/><circle cx="611.0" cy="314.0" r="2.3"/><circle cx="611.1" cy="315.2" r="2.3"/><circle cx="612.0" cy="325.2" r="2.3"/><circle cx="612.1" cy="318.0" r="2.3"/><circle cx="612.6" cy="318.6" r="2.3"/><circle cx="613.4" cy="313.1" r="2.3"/><circle cx="613.8" cy="334.7" r="2.3"/><circle cx="614.2" cy="333.2" r="2.3"/><circle cx="614.0" cy="327.5" r="2.3"/><circle cx="614.9" cy="325.7" r="2.3"/><circle cx="615.1" cy="337.9" r="2.3"/><circle cx="615.9" cy="320.8" r="2.3"/><circle cx="616.3" cy="332.2" r="2.3"/><circle cx="616.8" cy="326.9" r="2.3"/><circle cx="617.4" cy="326.6" r="2.3"/><circle cx="617.5" cy="320.5" r="2.3"/><circle cx="618.6" cy="334.0" r="2.3"/><circle cx="619.0" cy="336.8" r="2.3"/><circle cx="620.0" cy="337.5" r="2.3"/><circle cx="620.1" cy="330.6" r="2.3"/><circle cx="620.6" cy="326.6" r="2.3"/><circle cx="621.6" cy="324.5" r="2.3"/><circle cx="622.1" cy="325.8" r="2.3"/><circle cx="623.0" cy="324.6" r="2.3"/><circle cx="623.1" cy="323.7" r="2.3"/><circle cx="624.4" cy="324.6" r="2.3"/><circle cx="624.6" cy="328.9" r="2.3"/><circle cx="625.4" cy="329.3" r="2.3"/><circle cx="625.7" cy="332.7" r="2.3"/><circle cx="627.0" cy="325.0" r="2.3"/><circle cx="571.1" cy="265.1" r="2.3"/><circle cx="568.9" cy="306.1" r="2.3"/><circle cx="576.6" cy="300.0" r="2.3"/><circle cx="554.6" cy="315.4" r="2.3"/><circle cx="510.1" cy="325.7" r="2.3"/><circle cx="526.1" cy="323.7" r="2.3"/><circle cx="525.0" cy="328.5" r="2.3"/><circle cx="538.2" cy="328.5" r="2.3"/><circle cx="539.3" cy="332.9" r="2.3"/><circle cx="509.6" cy="335.6" r="2.3"/><circle cx="515.1" cy="334.7" r="2.3"/><circle cx="498.7" cy="339.5" r="2.3"/><circle cx="497.6" cy="341.1" r="2.3"/><circle cx="494.3" cy="346.1" r="2.3"/><circle cx="502.0" cy="348.7" r="2.3"/><circle cx="508.5" cy="342.8" r="2.3"/><circle cx="518.4" cy="348.3" r="2.3"/><circle cx="522.8" cy="345.0" r="2.3"/><circle cx="527.9" cy="343.9" r="2.3"/><circle cx="545.9" cy="324.1" r="2.3"/><circle cx="545.9" cy="330.7" r="2.3"/><circle cx="548.1" cy="322.0" r="2.3"/><circle cx="499.8" cy="376.2" r="2.3"/><circle cx="504.1" cy="383.9" r="2.3"/><circle cx="491.0" cy="378.6" r="2.3"/><circle cx="481.1" cy="383.4" r="2.3"/><circle cx="484.4" cy="388.9" r="2.3"/><circle cx="492.1" cy="387.4" r="2.3"/><circle cx="516.2" cy="374.6" r="2.3"/><circle cx="519.5" cy="382.3" r="2.3"/><circle cx="517.3" cy="379.0" r="2.3"/><circle cx="522.8" cy="371.4" r="2.3"/><circle cx="536.6" cy="369.8" r="2.3"/><circle cx="538.2" cy="368.1" r="2.3"/><circle cx="540.4" cy="385.6" r="2.3"/><circle cx="527.9" cy="407.1" r="2.3"/><circle cx="570.0" cy="364.8" r="2.3"/><circle cx="571.1" cy="361.5" r="2.3"/><circle cx="565.6" cy="317.6" r="2.3"/><circle cx="610.1" cy="281.3" r="2.3"/><circle cx="605.0" cy="289.9" r="2.3"/><circle cx="612.3" cy="291.2" r="2.3"/><circle cx="565.5" cy="296.5" r="2.3"/><circle cx="593.4" cy="298.2" r="2.3"/><circle cx="588.5" cy="312.5" r="2.3"/><circle cx="613.8" cy="308.5" r="2.3"/><circle cx="607.2" cy="309.2" r="2.3"/><circle cx="610.5" cy="310.3" r="2.3"/><circle cx="600.6" cy="313.6" r="2.3"/><circle cx="618.2" cy="316.9" r="2.3"/><circle cx="624.8" cy="326.8" r="2.3"/><circle cx="625.9" cy="329.0" r="2.3"/><circle cx="632.4" cy="331.2" r="2.3"/><circle cx="634.6" cy="334.4" r="2.3"/><circle cx="616.0" cy="339.9" r="2.3"/><circle cx="621.5" cy="341.0" r="2.3"/><circle cx="623.7" cy="345.0" r="2.3"/><circle cx="590.7" cy="358.6" r="2.3"/><circle cx="583.1" cy="349.8" r="2.3"/><circle cx="572.1" cy="356.4" r="2.3"/><circle cx="560.0" cy="360.8" r="2.3"/><circle cx="562.2" cy="354.2" r="2.3"/><circle cx="454.6" cy="334.8" r="2.3"/><circle cx="427.6" cy="387.5" r="2.3"/><circle cx="435.5" cy="385.1" r="2.3"/><circle cx="434.7" cy="388.7" r="2.3"/><circle cx="447.4" cy="379.1" r="2.3"/><circle cx="457.0" cy="370.7" r="2.3"/><circle cx="461.1" cy="375.1" r="2.3"/><circle cx="461.1" cy="381.5" r="2.3"/><circle cx="471.4" cy="371.9" r="2.3"/><circle cx="469.5" cy="376.0" r="2.3"/><circle cx="469.5" cy="382.2" r="2.3"/><circle cx="466.6" cy="393.5" r="2.3"/><circle cx="450.3" cy="412.7" r="2.3"/><circle cx="462.8" cy="439.5" r="2.3"/><circle cx="477.9" cy="404.8" r="2.3"/><circle cx="487.9" cy="401.4" r="2.3"/><circle cx="475.5" cy="360.7" r="2.3"/><circle cx="479.1" cy="356.8" r="2.3"/><circle cx="477.9" cy="366.0" r="2.3"/><circle cx="481.5" cy="369.5" r="2.3"/><circle cx="479.1" cy="370.7" r="2.3"/><circle cx="481.5" cy="375.5" r="2.3"/><circle cx="483.9" cy="361.2" r="2.3"/><circle cx="488.7" cy="352.8" r="2.3"/><circle cx="489.9" cy="358.8" r="2.3"/></g>
<polyline points="427.7,385.2 429.4,385.0 431.8,384.9 434.5,384.6 437.6,384.4 440.8,384.1 444.1,383.8 447.2,383.4 450.0,383.0 452.6,382.6 455.2,382.1 457.7,381.6 460.1,381.1 462.6,380.5 465.1,379.9 467.5,379.2 470.0,378.5 472.5,377.7 475.0,376.8 477.4,375.9 479.9,374.9 482.4,373.8 484.9,372.8 487.4,371.6 490.0,370.5 492.6,369.3 495.3,368.1 498.1,366.8 500.8,365.5 503.6,364.1 506.4,362.8 509.1,361.4 511.9,360.1 514.6,358.8 517.4,357.4 520.1,356.1 522.8,354.7 525.6,353.3 528.3,352.0 531.1,350.7 533.8,349.4 536.5,348.1 539.3,346.9 542.0,345.7 544.8,344.5 547.5,343.3 550.2,342.2 553.0,341.1 555.7,340.0 558.4,339.0 561.2,338.0 563.9,337.0 566.7,336.1 569.4,335.2 572.1,334.3 574.9,333.4 577.6,332.6 580.3,331.8 583.1,331.0 585.8,330.2 588.5,329.5 591.3,328.8 594.0,328.1 596.8,327.4 599.5,326.8 602.3,326.2 605.2,325.6 608.1,325.0 611.0,324.5 613.8,324.0 616.5,323.6 619.1,323.1 621.4,322.8 623.5,322.5 625.6,322.3 627.5,322.1 629.3,322.0 630.9,321.9 632.4,321.8 633.5,321.8 634.5,321.7" fill="none" stroke="#9e2a55" stroke-width="1.1"/>
<line x1="378.0" y1="260.1" x2="378.0" y2="449.0" stroke="#3a3a3a" stroke-width="1.2"/>
<line x1="377.4" y1="448.4" x2="685.0" y2="448.4" stroke="#3a3a3a" stroke-width="1.2"/>
<line x1="374.4" y1="280.1" x2="378.0" y2="280.1" stroke="#3a3a3a" stroke-width="1.1"/>
<text transform="translate(369.4,280.1) rotate(-90)" text-anchor="middle" font-size="8.82">.1</text>
<line x1="374.4" y1="312.6" x2="378.0" y2="312.6" stroke="#3a3a3a" stroke-width="1.1"/>
<text transform="translate(369.4,312.6) rotate(-90)" text-anchor="middle" font-size="8.82">.05</text>
<line x1="374.4" y1="345.2" x2="378.0" y2="345.2" stroke="#3a3a3a" stroke-width="1.1"/>
<text transform="translate(369.4,345.2) rotate(-90)" text-anchor="middle" font-size="8.82">0</text>
<line x1="374.4" y1="377.8" x2="378.0" y2="377.8" stroke="#3a3a3a" stroke-width="1.1"/>
<text transform="translate(369.4,377.8) rotate(-90)" text-anchor="middle" font-size="8.82">-.05</text>
<line x1="374.4" y1="410.3" x2="378.0" y2="410.3" stroke="#3a3a3a" stroke-width="1.1"/>
<text transform="translate(369.4,410.3) rotate(-90)" text-anchor="middle" font-size="8.82">-.1</text>
<line x1="374.4" y1="442.9" x2="378.0" y2="442.9" stroke="#3a3a3a" stroke-width="1.1"/>
<text transform="translate(369.4,442.9) rotate(-90)" text-anchor="middle" font-size="8.82">-.15</text>
<line x1="383.4" y1="448.4" x2="383.4" y2="452.0" stroke="#3a3a3a" stroke-width="1.1"/>
<text x="383.4" y="460.8" text-anchor="middle" font-size="8.82">-4</text>
<line x1="457.4" y1="448.4" x2="457.4" y2="452.0" stroke="#3a3a3a" stroke-width="1.1"/>
<text x="457.4" y="460.8" text-anchor="middle" font-size="8.82">-2</text>
<line x1="531.4" y1="448.4" x2="531.4" y2="452.0" stroke="#3a3a3a" stroke-width="1.1"/>
<text x="531.4" y="460.8" text-anchor="middle" font-size="8.82">0</text>
<line x1="605.4" y1="448.4" x2="605.4" y2="452.0" stroke="#3a3a3a" stroke-width="1.1"/>
<text x="605.4" y="460.8" text-anchor="middle" font-size="8.82">2</text>
<line x1="679.4" y1="448.4" x2="679.4" y2="452.0" stroke="#3a3a3a" stroke-width="1.1"/>
<text x="679.4" y="460.8" text-anchor="middle" font-size="8.82">4</text>
<text transform="translate(354.0,354.2) rotate(-90)" text-anchor="middle" font-size="8.82">Per capita GDP Growth</text>
<text x="531.5" y="476.6" text-anchor="middle" font-size="8.82">Infrastructure Index (logs)</text>
<rect x="408.4" y="484.4" width="246.1" height="15.8" fill="#fff" stroke="#2a2a2a" stroke-width="1.1"/>
<rect x="412.2" y="488.0" width="33.3" height="8.6" fill="#b4b4b4"/>
<text x="450.7" y="496.1" text-anchor="start" font-size="8.813099999999999">95% CI</text>
<circle cx="495.4" cy="491.9" r="2.2" fill="#15478b"/>
<text x="502.5" y="496.1" text-anchor="start" font-size="8.813099999999999">linear fit</text>
<line x1="546.4" y1="492.1" x2="579.7" y2="492.1" stroke="#9e2a55" stroke-width="1.1"/>
<text x="585.2" y="496.1" text-anchor="start" font-size="8.813099999999999">B-spline smooth</text>
</svg>
</body></html>
